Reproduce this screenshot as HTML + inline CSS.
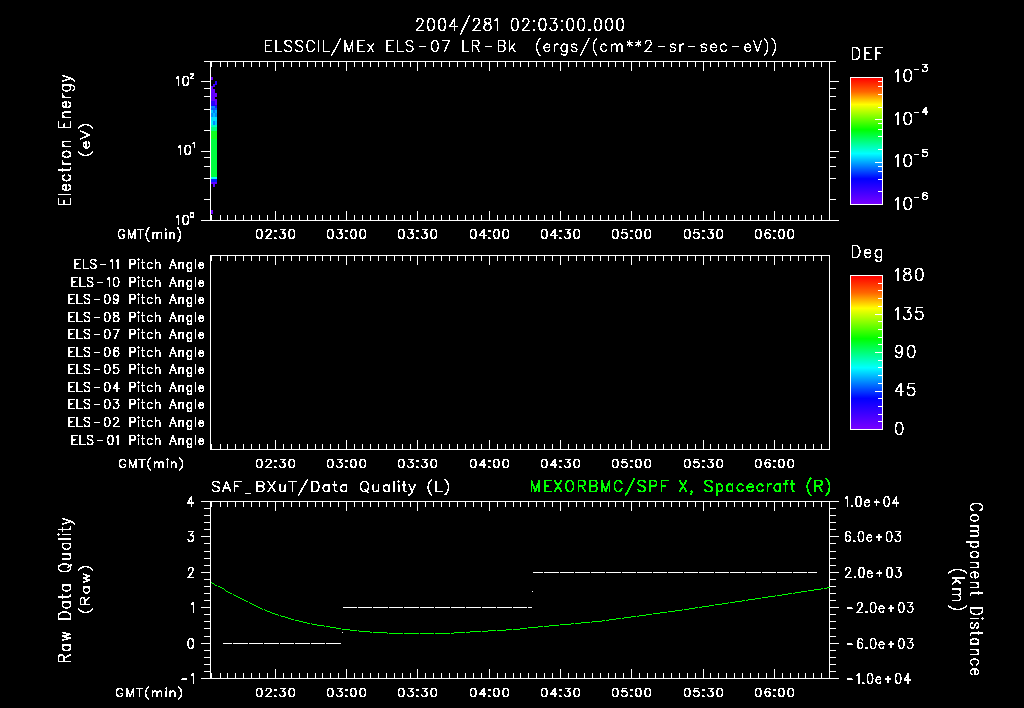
<!DOCTYPE html>
<html><head><meta charset="utf-8"><style>
html,body{margin:0;padding:0;background:#000;width:1024px;height:708px;overflow:hidden}
svg{display:block}
</style></head><body>
<svg width="1024" height="708" viewBox="0 0 1024 708">
<defs><linearGradient id="rb" x1="0" y1="0" x2="0" y2="1">
<stop offset="0" stop-color="#ff0000"/><stop offset="0.11" stop-color="#ff6600"/><stop offset="0.21" stop-color="#ffff00"/>
<stop offset="0.41" stop-color="#00ff00"/><stop offset="0.60" stop-color="#00ffff"/><stop offset="0.80" stop-color="#0000ff"/>
<stop offset="1" stop-color="#7800ff"/></linearGradient></defs>
<rect width="1024" height="708" fill="#000"/>
<g shape-rendering="crispEdges">
<rect x="204" y="61" width="632" height="1" fill="#fff"/>
<rect x="201" y="220" width="638" height="1" fill="#fff"/>
<rect x="210" y="61" width="1" height="160" fill="#fff"/>
<rect x="829" y="61" width="1" height="160" fill="#fff"/>
<rect x="211" y="62" width="1" height="5" fill="#fff"/>
<rect x="211" y="215" width="1" height="5" fill="#fff"/>
<rect x="220" y="62" width="1" height="5" fill="#fff"/>
<rect x="220" y="215" width="1" height="5" fill="#fff"/>
<rect x="227" y="62" width="1" height="5" fill="#fff"/>
<rect x="227" y="215" width="1" height="5" fill="#fff"/>
<rect x="235" y="62" width="1" height="5" fill="#fff"/>
<rect x="235" y="215" width="1" height="5" fill="#fff"/>
<rect x="243" y="62" width="1" height="5" fill="#fff"/>
<rect x="243" y="215" width="1" height="5" fill="#fff"/>
<rect x="251" y="62" width="1" height="5" fill="#fff"/>
<rect x="251" y="215" width="1" height="5" fill="#fff"/>
<rect x="259" y="62" width="1" height="5" fill="#fff"/>
<rect x="259" y="215" width="1" height="5" fill="#fff"/>
<rect x="267" y="62" width="1" height="5" fill="#fff"/>
<rect x="267" y="215" width="1" height="5" fill="#fff"/>
<rect x="275" y="62" width="1" height="9" fill="#fff"/>
<rect x="275" y="211" width="1" height="9" fill="#fff"/>
<rect x="283" y="62" width="1" height="5" fill="#fff"/>
<rect x="283" y="215" width="1" height="5" fill="#fff"/>
<rect x="291" y="62" width="1" height="5" fill="#fff"/>
<rect x="291" y="215" width="1" height="5" fill="#fff"/>
<rect x="299" y="62" width="1" height="5" fill="#fff"/>
<rect x="299" y="215" width="1" height="5" fill="#fff"/>
<rect x="307" y="62" width="1" height="5" fill="#fff"/>
<rect x="307" y="215" width="1" height="5" fill="#fff"/>
<rect x="315" y="62" width="1" height="5" fill="#fff"/>
<rect x="315" y="215" width="1" height="5" fill="#fff"/>
<rect x="322" y="62" width="1" height="5" fill="#fff"/>
<rect x="322" y="215" width="1" height="5" fill="#fff"/>
<rect x="330" y="62" width="1" height="5" fill="#fff"/>
<rect x="330" y="215" width="1" height="5" fill="#fff"/>
<rect x="338" y="62" width="1" height="5" fill="#fff"/>
<rect x="338" y="215" width="1" height="5" fill="#fff"/>
<rect x="346" y="62" width="1" height="9" fill="#fff"/>
<rect x="346" y="211" width="1" height="9" fill="#fff"/>
<rect x="354" y="62" width="1" height="5" fill="#fff"/>
<rect x="354" y="215" width="1" height="5" fill="#fff"/>
<rect x="362" y="62" width="1" height="5" fill="#fff"/>
<rect x="362" y="215" width="1" height="5" fill="#fff"/>
<rect x="370" y="62" width="1" height="5" fill="#fff"/>
<rect x="370" y="215" width="1" height="5" fill="#fff"/>
<rect x="378" y="62" width="1" height="5" fill="#fff"/>
<rect x="378" y="215" width="1" height="5" fill="#fff"/>
<rect x="386" y="62" width="1" height="5" fill="#fff"/>
<rect x="386" y="215" width="1" height="5" fill="#fff"/>
<rect x="394" y="62" width="1" height="5" fill="#fff"/>
<rect x="394" y="215" width="1" height="5" fill="#fff"/>
<rect x="402" y="62" width="1" height="5" fill="#fff"/>
<rect x="402" y="215" width="1" height="5" fill="#fff"/>
<rect x="410" y="62" width="1" height="5" fill="#fff"/>
<rect x="410" y="215" width="1" height="5" fill="#fff"/>
<rect x="417" y="62" width="1" height="9" fill="#fff"/>
<rect x="417" y="211" width="1" height="9" fill="#fff"/>
<rect x="425" y="62" width="1" height="5" fill="#fff"/>
<rect x="425" y="215" width="1" height="5" fill="#fff"/>
<rect x="433" y="62" width="1" height="5" fill="#fff"/>
<rect x="433" y="215" width="1" height="5" fill="#fff"/>
<rect x="441" y="62" width="1" height="5" fill="#fff"/>
<rect x="441" y="215" width="1" height="5" fill="#fff"/>
<rect x="449" y="62" width="1" height="5" fill="#fff"/>
<rect x="449" y="215" width="1" height="5" fill="#fff"/>
<rect x="457" y="62" width="1" height="5" fill="#fff"/>
<rect x="457" y="215" width="1" height="5" fill="#fff"/>
<rect x="465" y="62" width="1" height="5" fill="#fff"/>
<rect x="465" y="215" width="1" height="5" fill="#fff"/>
<rect x="473" y="62" width="1" height="5" fill="#fff"/>
<rect x="473" y="215" width="1" height="5" fill="#fff"/>
<rect x="481" y="62" width="1" height="5" fill="#fff"/>
<rect x="481" y="215" width="1" height="5" fill="#fff"/>
<rect x="489" y="62" width="1" height="9" fill="#fff"/>
<rect x="489" y="211" width="1" height="9" fill="#fff"/>
<rect x="497" y="62" width="1" height="5" fill="#fff"/>
<rect x="497" y="215" width="1" height="5" fill="#fff"/>
<rect x="505" y="62" width="1" height="5" fill="#fff"/>
<rect x="505" y="215" width="1" height="5" fill="#fff"/>
<rect x="513" y="62" width="1" height="5" fill="#fff"/>
<rect x="513" y="215" width="1" height="5" fill="#fff"/>
<rect x="520" y="62" width="1" height="5" fill="#fff"/>
<rect x="520" y="215" width="1" height="5" fill="#fff"/>
<rect x="528" y="62" width="1" height="5" fill="#fff"/>
<rect x="528" y="215" width="1" height="5" fill="#fff"/>
<rect x="536" y="62" width="1" height="5" fill="#fff"/>
<rect x="536" y="215" width="1" height="5" fill="#fff"/>
<rect x="544" y="62" width="1" height="5" fill="#fff"/>
<rect x="544" y="215" width="1" height="5" fill="#fff"/>
<rect x="552" y="62" width="1" height="5" fill="#fff"/>
<rect x="552" y="215" width="1" height="5" fill="#fff"/>
<rect x="560" y="62" width="1" height="9" fill="#fff"/>
<rect x="560" y="211" width="1" height="9" fill="#fff"/>
<rect x="568" y="62" width="1" height="5" fill="#fff"/>
<rect x="568" y="215" width="1" height="5" fill="#fff"/>
<rect x="576" y="62" width="1" height="5" fill="#fff"/>
<rect x="576" y="215" width="1" height="5" fill="#fff"/>
<rect x="584" y="62" width="1" height="5" fill="#fff"/>
<rect x="584" y="215" width="1" height="5" fill="#fff"/>
<rect x="592" y="62" width="1" height="5" fill="#fff"/>
<rect x="592" y="215" width="1" height="5" fill="#fff"/>
<rect x="600" y="62" width="1" height="5" fill="#fff"/>
<rect x="600" y="215" width="1" height="5" fill="#fff"/>
<rect x="608" y="62" width="1" height="5" fill="#fff"/>
<rect x="608" y="215" width="1" height="5" fill="#fff"/>
<rect x="615" y="62" width="1" height="5" fill="#fff"/>
<rect x="615" y="215" width="1" height="5" fill="#fff"/>
<rect x="623" y="62" width="1" height="5" fill="#fff"/>
<rect x="623" y="215" width="1" height="5" fill="#fff"/>
<rect x="631" y="62" width="1" height="9" fill="#fff"/>
<rect x="631" y="211" width="1" height="9" fill="#fff"/>
<rect x="639" y="62" width="1" height="5" fill="#fff"/>
<rect x="639" y="215" width="1" height="5" fill="#fff"/>
<rect x="647" y="62" width="1" height="5" fill="#fff"/>
<rect x="647" y="215" width="1" height="5" fill="#fff"/>
<rect x="655" y="62" width="1" height="5" fill="#fff"/>
<rect x="655" y="215" width="1" height="5" fill="#fff"/>
<rect x="663" y="62" width="1" height="5" fill="#fff"/>
<rect x="663" y="215" width="1" height="5" fill="#fff"/>
<rect x="671" y="62" width="1" height="5" fill="#fff"/>
<rect x="671" y="215" width="1" height="5" fill="#fff"/>
<rect x="679" y="62" width="1" height="5" fill="#fff"/>
<rect x="679" y="215" width="1" height="5" fill="#fff"/>
<rect x="687" y="62" width="1" height="5" fill="#fff"/>
<rect x="687" y="215" width="1" height="5" fill="#fff"/>
<rect x="695" y="62" width="1" height="5" fill="#fff"/>
<rect x="695" y="215" width="1" height="5" fill="#fff"/>
<rect x="703" y="62" width="1" height="9" fill="#fff"/>
<rect x="703" y="211" width="1" height="9" fill="#fff"/>
<rect x="710" y="62" width="1" height="5" fill="#fff"/>
<rect x="710" y="215" width="1" height="5" fill="#fff"/>
<rect x="718" y="62" width="1" height="5" fill="#fff"/>
<rect x="718" y="215" width="1" height="5" fill="#fff"/>
<rect x="726" y="62" width="1" height="5" fill="#fff"/>
<rect x="726" y="215" width="1" height="5" fill="#fff"/>
<rect x="734" y="62" width="1" height="5" fill="#fff"/>
<rect x="734" y="215" width="1" height="5" fill="#fff"/>
<rect x="742" y="62" width="1" height="5" fill="#fff"/>
<rect x="742" y="215" width="1" height="5" fill="#fff"/>
<rect x="750" y="62" width="1" height="5" fill="#fff"/>
<rect x="750" y="215" width="1" height="5" fill="#fff"/>
<rect x="758" y="62" width="1" height="5" fill="#fff"/>
<rect x="758" y="215" width="1" height="5" fill="#fff"/>
<rect x="766" y="62" width="1" height="5" fill="#fff"/>
<rect x="766" y="215" width="1" height="5" fill="#fff"/>
<rect x="774" y="62" width="1" height="9" fill="#fff"/>
<rect x="774" y="211" width="1" height="9" fill="#fff"/>
<rect x="782" y="62" width="1" height="5" fill="#fff"/>
<rect x="782" y="215" width="1" height="5" fill="#fff"/>
<rect x="790" y="62" width="1" height="5" fill="#fff"/>
<rect x="790" y="215" width="1" height="5" fill="#fff"/>
<rect x="798" y="62" width="1" height="5" fill="#fff"/>
<rect x="798" y="215" width="1" height="5" fill="#fff"/>
<rect x="805" y="62" width="1" height="5" fill="#fff"/>
<rect x="805" y="215" width="1" height="5" fill="#fff"/>
<rect x="813" y="62" width="1" height="5" fill="#fff"/>
<rect x="813" y="215" width="1" height="5" fill="#fff"/>
<rect x="821" y="62" width="1" height="5" fill="#fff"/>
<rect x="821" y="215" width="1" height="5" fill="#fff"/>
<rect x="829" y="62" width="1" height="5" fill="#fff"/>
<rect x="829" y="215" width="1" height="5" fill="#fff"/>
<rect x="201" y="220" width="9" height="1" fill="#fff"/>
<rect x="830" y="220" width="9" height="1" fill="#fff"/>
<rect x="204" y="199" width="6" height="1" fill="#fff"/>
<rect x="830" y="199" width="6" height="1" fill="#fff"/>
<rect x="204" y="178" width="6" height="1" fill="#fff"/>
<rect x="830" y="178" width="6" height="1" fill="#fff"/>
<rect x="204" y="166" width="6" height="1" fill="#fff"/>
<rect x="830" y="166" width="6" height="1" fill="#fff"/>
<rect x="204" y="157" width="6" height="1" fill="#fff"/>
<rect x="830" y="157" width="6" height="1" fill="#fff"/>
<rect x="201" y="151" width="9" height="1" fill="#fff"/>
<rect x="830" y="151" width="9" height="1" fill="#fff"/>
<rect x="204" y="130" width="6" height="1" fill="#fff"/>
<rect x="830" y="130" width="6" height="1" fill="#fff"/>
<rect x="204" y="109" width="6" height="1" fill="#fff"/>
<rect x="830" y="109" width="6" height="1" fill="#fff"/>
<rect x="204" y="96" width="6" height="1" fill="#fff"/>
<rect x="830" y="96" width="6" height="1" fill="#fff"/>
<rect x="204" y="88" width="6" height="1" fill="#fff"/>
<rect x="830" y="88" width="6" height="1" fill="#fff"/>
<rect x="201" y="81" width="9" height="1" fill="#fff"/>
<rect x="830" y="81" width="9" height="1" fill="#fff"/>
<rect x="204" y="61" width="6" height="1" fill="#fff"/>
<rect x="830" y="61" width="6" height="1" fill="#fff"/>
<rect x="211" y="77" width="2" height="3" fill="#7000ff"/>
<rect x="215" y="81" width="2" height="4" fill="#2400ff"/>
<rect x="213" y="84" width="2" height="3" fill="#4800ff"/>
<rect x="211" y="86" width="2" height="3" fill="#6400ff"/>
<rect x="211" y="89" width="4" height="4" fill="#6400ff"/>
<rect x="211" y="93" width="4" height="4" fill="#6000ff"/>
<rect x="215" y="93" width="2" height="4" fill="#7000ff"/>
<rect x="211" y="97" width="4" height="2" fill="#6000ff"/>
<rect x="211" y="99" width="6" height="2" fill="#6400ff"/>
<rect x="211" y="101" width="4" height="4" fill="#2800ff"/>
<rect x="215" y="101" width="2" height="4" fill="#6800ff"/>
<rect x="211" y="105" width="4" height="1" fill="#1800ff"/>
<rect x="215" y="105" width="2" height="1" fill="#2000ff"/>
<rect x="211" y="106" width="4" height="2" fill="#0080ff"/>
<rect x="215" y="106" width="2" height="2" fill="#1020ff"/>
<rect x="211" y="108" width="6" height="2" fill="#0060ff"/>
<rect x="211" y="110" width="2" height="3" fill="#00c8ff"/>
<rect x="213" y="110" width="2" height="3" fill="#0080ff"/>
<rect x="215" y="110" width="2" height="3" fill="#00b0ff"/>
<rect x="211" y="113" width="2" height="4" fill="#0090ff"/>
<rect x="213" y="113" width="2" height="4" fill="#00b8ff"/>
<rect x="215" y="113" width="2" height="4" fill="#0090ff"/>
<rect x="211" y="117" width="6" height="4" fill="#00e0ff"/>
<rect x="211" y="121" width="2" height="4" fill="#00f0ff"/>
<rect x="213" y="121" width="2" height="4" fill="#0090ff"/>
<rect x="215" y="121" width="2" height="4" fill="#00d0ff"/>
<rect x="211" y="125" width="6" height="2" fill="#00ffc0"/>
<rect x="211" y="127" width="6" height="4" fill="#00ff80"/>
<rect x="211" y="131" width="6" height="8" fill="#10ff20"/>
<rect x="211" y="139" width="6" height="38" fill="#00ff40"/>
<rect x="211" y="177" width="6" height="2" fill="#00ffff"/>
<rect x="211" y="179" width="6" height="3" fill="#0020ff"/>
<rect x="211" y="182" width="6" height="2" fill="#6000ff"/>
<rect x="213" y="184" width="2" height="3" fill="#6000ff"/>
<rect x="211" y="210" width="2" height="4" fill="#7000ff"/>
<rect x="851" y="78" width="31" height="126" fill="url(#rb)"/>
<rect x="850" y="77" width="33" height="1" fill="#fff"/>
<rect x="850" y="204" width="33" height="1" fill="#fff"/>
<rect x="850" y="77" width="1" height="128" fill="#fff"/>
<rect x="882" y="77" width="1" height="128" fill="#fff"/>
<rect x="875" y="119" width="7" height="1" fill="#fff"/>
<rect x="878" y="107" width="4" height="1" fill="#fff"/>
<rect x="878" y="94" width="4" height="1" fill="#fff"/>
<rect x="878" y="86" width="4" height="1" fill="#fff"/>
<rect x="878" y="81" width="4" height="1" fill="#fff"/>
<rect x="875" y="162" width="7" height="1" fill="#fff"/>
<rect x="878" y="149" width="4" height="1" fill="#fff"/>
<rect x="878" y="136" width="4" height="1" fill="#fff"/>
<rect x="878" y="129" width="4" height="1" fill="#fff"/>
<rect x="878" y="123" width="4" height="1" fill="#fff"/>
<rect x="878" y="191" width="4" height="1" fill="#fff"/>
<rect x="878" y="179" width="4" height="1" fill="#fff"/>
<rect x="878" y="171" width="4" height="1" fill="#fff"/>
<rect x="878" y="166" width="4" height="1" fill="#fff"/>
<rect x="914" y="69" width="5" height="1" fill="#fff"/>
<rect x="914" y="112" width="5" height="1" fill="#fff"/>
<rect x="914" y="154" width="5" height="1" fill="#fff"/>
<rect x="914" y="197" width="5" height="1" fill="#fff"/>
<rect x="210" y="255" width="620" height="1" fill="#fff"/>
<rect x="210" y="449" width="620" height="1" fill="#fff"/>
<rect x="210" y="255" width="1" height="195" fill="#fff"/>
<rect x="829" y="255" width="1" height="195" fill="#fff"/>
<rect x="211" y="256" width="1" height="5" fill="#fff"/>
<rect x="211" y="444" width="1" height="5" fill="#fff"/>
<rect x="220" y="256" width="1" height="5" fill="#fff"/>
<rect x="220" y="444" width="1" height="5" fill="#fff"/>
<rect x="227" y="256" width="1" height="5" fill="#fff"/>
<rect x="227" y="444" width="1" height="5" fill="#fff"/>
<rect x="235" y="256" width="1" height="5" fill="#fff"/>
<rect x="235" y="444" width="1" height="5" fill="#fff"/>
<rect x="243" y="256" width="1" height="5" fill="#fff"/>
<rect x="243" y="444" width="1" height="5" fill="#fff"/>
<rect x="251" y="256" width="1" height="5" fill="#fff"/>
<rect x="251" y="444" width="1" height="5" fill="#fff"/>
<rect x="259" y="256" width="1" height="5" fill="#fff"/>
<rect x="259" y="444" width="1" height="5" fill="#fff"/>
<rect x="267" y="256" width="1" height="5" fill="#fff"/>
<rect x="267" y="444" width="1" height="5" fill="#fff"/>
<rect x="275" y="256" width="1" height="9" fill="#fff"/>
<rect x="275" y="440" width="1" height="9" fill="#fff"/>
<rect x="283" y="256" width="1" height="5" fill="#fff"/>
<rect x="283" y="444" width="1" height="5" fill="#fff"/>
<rect x="291" y="256" width="1" height="5" fill="#fff"/>
<rect x="291" y="444" width="1" height="5" fill="#fff"/>
<rect x="299" y="256" width="1" height="5" fill="#fff"/>
<rect x="299" y="444" width="1" height="5" fill="#fff"/>
<rect x="307" y="256" width="1" height="5" fill="#fff"/>
<rect x="307" y="444" width="1" height="5" fill="#fff"/>
<rect x="315" y="256" width="1" height="5" fill="#fff"/>
<rect x="315" y="444" width="1" height="5" fill="#fff"/>
<rect x="322" y="256" width="1" height="5" fill="#fff"/>
<rect x="322" y="444" width="1" height="5" fill="#fff"/>
<rect x="330" y="256" width="1" height="5" fill="#fff"/>
<rect x="330" y="444" width="1" height="5" fill="#fff"/>
<rect x="338" y="256" width="1" height="5" fill="#fff"/>
<rect x="338" y="444" width="1" height="5" fill="#fff"/>
<rect x="346" y="256" width="1" height="9" fill="#fff"/>
<rect x="346" y="440" width="1" height="9" fill="#fff"/>
<rect x="354" y="256" width="1" height="5" fill="#fff"/>
<rect x="354" y="444" width="1" height="5" fill="#fff"/>
<rect x="362" y="256" width="1" height="5" fill="#fff"/>
<rect x="362" y="444" width="1" height="5" fill="#fff"/>
<rect x="370" y="256" width="1" height="5" fill="#fff"/>
<rect x="370" y="444" width="1" height="5" fill="#fff"/>
<rect x="378" y="256" width="1" height="5" fill="#fff"/>
<rect x="378" y="444" width="1" height="5" fill="#fff"/>
<rect x="386" y="256" width="1" height="5" fill="#fff"/>
<rect x="386" y="444" width="1" height="5" fill="#fff"/>
<rect x="394" y="256" width="1" height="5" fill="#fff"/>
<rect x="394" y="444" width="1" height="5" fill="#fff"/>
<rect x="402" y="256" width="1" height="5" fill="#fff"/>
<rect x="402" y="444" width="1" height="5" fill="#fff"/>
<rect x="410" y="256" width="1" height="5" fill="#fff"/>
<rect x="410" y="444" width="1" height="5" fill="#fff"/>
<rect x="417" y="256" width="1" height="9" fill="#fff"/>
<rect x="417" y="440" width="1" height="9" fill="#fff"/>
<rect x="425" y="256" width="1" height="5" fill="#fff"/>
<rect x="425" y="444" width="1" height="5" fill="#fff"/>
<rect x="433" y="256" width="1" height="5" fill="#fff"/>
<rect x="433" y="444" width="1" height="5" fill="#fff"/>
<rect x="441" y="256" width="1" height="5" fill="#fff"/>
<rect x="441" y="444" width="1" height="5" fill="#fff"/>
<rect x="449" y="256" width="1" height="5" fill="#fff"/>
<rect x="449" y="444" width="1" height="5" fill="#fff"/>
<rect x="457" y="256" width="1" height="5" fill="#fff"/>
<rect x="457" y="444" width="1" height="5" fill="#fff"/>
<rect x="465" y="256" width="1" height="5" fill="#fff"/>
<rect x="465" y="444" width="1" height="5" fill="#fff"/>
<rect x="473" y="256" width="1" height="5" fill="#fff"/>
<rect x="473" y="444" width="1" height="5" fill="#fff"/>
<rect x="481" y="256" width="1" height="5" fill="#fff"/>
<rect x="481" y="444" width="1" height="5" fill="#fff"/>
<rect x="489" y="256" width="1" height="9" fill="#fff"/>
<rect x="489" y="440" width="1" height="9" fill="#fff"/>
<rect x="497" y="256" width="1" height="5" fill="#fff"/>
<rect x="497" y="444" width="1" height="5" fill="#fff"/>
<rect x="505" y="256" width="1" height="5" fill="#fff"/>
<rect x="505" y="444" width="1" height="5" fill="#fff"/>
<rect x="513" y="256" width="1" height="5" fill="#fff"/>
<rect x="513" y="444" width="1" height="5" fill="#fff"/>
<rect x="520" y="256" width="1" height="5" fill="#fff"/>
<rect x="520" y="444" width="1" height="5" fill="#fff"/>
<rect x="528" y="256" width="1" height="5" fill="#fff"/>
<rect x="528" y="444" width="1" height="5" fill="#fff"/>
<rect x="536" y="256" width="1" height="5" fill="#fff"/>
<rect x="536" y="444" width="1" height="5" fill="#fff"/>
<rect x="544" y="256" width="1" height="5" fill="#fff"/>
<rect x="544" y="444" width="1" height="5" fill="#fff"/>
<rect x="552" y="256" width="1" height="5" fill="#fff"/>
<rect x="552" y="444" width="1" height="5" fill="#fff"/>
<rect x="560" y="256" width="1" height="9" fill="#fff"/>
<rect x="560" y="440" width="1" height="9" fill="#fff"/>
<rect x="568" y="256" width="1" height="5" fill="#fff"/>
<rect x="568" y="444" width="1" height="5" fill="#fff"/>
<rect x="576" y="256" width="1" height="5" fill="#fff"/>
<rect x="576" y="444" width="1" height="5" fill="#fff"/>
<rect x="584" y="256" width="1" height="5" fill="#fff"/>
<rect x="584" y="444" width="1" height="5" fill="#fff"/>
<rect x="592" y="256" width="1" height="5" fill="#fff"/>
<rect x="592" y="444" width="1" height="5" fill="#fff"/>
<rect x="600" y="256" width="1" height="5" fill="#fff"/>
<rect x="600" y="444" width="1" height="5" fill="#fff"/>
<rect x="608" y="256" width="1" height="5" fill="#fff"/>
<rect x="608" y="444" width="1" height="5" fill="#fff"/>
<rect x="615" y="256" width="1" height="5" fill="#fff"/>
<rect x="615" y="444" width="1" height="5" fill="#fff"/>
<rect x="623" y="256" width="1" height="5" fill="#fff"/>
<rect x="623" y="444" width="1" height="5" fill="#fff"/>
<rect x="631" y="256" width="1" height="9" fill="#fff"/>
<rect x="631" y="440" width="1" height="9" fill="#fff"/>
<rect x="639" y="256" width="1" height="5" fill="#fff"/>
<rect x="639" y="444" width="1" height="5" fill="#fff"/>
<rect x="647" y="256" width="1" height="5" fill="#fff"/>
<rect x="647" y="444" width="1" height="5" fill="#fff"/>
<rect x="655" y="256" width="1" height="5" fill="#fff"/>
<rect x="655" y="444" width="1" height="5" fill="#fff"/>
<rect x="663" y="256" width="1" height="5" fill="#fff"/>
<rect x="663" y="444" width="1" height="5" fill="#fff"/>
<rect x="671" y="256" width="1" height="5" fill="#fff"/>
<rect x="671" y="444" width="1" height="5" fill="#fff"/>
<rect x="679" y="256" width="1" height="5" fill="#fff"/>
<rect x="679" y="444" width="1" height="5" fill="#fff"/>
<rect x="687" y="256" width="1" height="5" fill="#fff"/>
<rect x="687" y="444" width="1" height="5" fill="#fff"/>
<rect x="695" y="256" width="1" height="5" fill="#fff"/>
<rect x="695" y="444" width="1" height="5" fill="#fff"/>
<rect x="703" y="256" width="1" height="9" fill="#fff"/>
<rect x="703" y="440" width="1" height="9" fill="#fff"/>
<rect x="710" y="256" width="1" height="5" fill="#fff"/>
<rect x="710" y="444" width="1" height="5" fill="#fff"/>
<rect x="718" y="256" width="1" height="5" fill="#fff"/>
<rect x="718" y="444" width="1" height="5" fill="#fff"/>
<rect x="726" y="256" width="1" height="5" fill="#fff"/>
<rect x="726" y="444" width="1" height="5" fill="#fff"/>
<rect x="734" y="256" width="1" height="5" fill="#fff"/>
<rect x="734" y="444" width="1" height="5" fill="#fff"/>
<rect x="742" y="256" width="1" height="5" fill="#fff"/>
<rect x="742" y="444" width="1" height="5" fill="#fff"/>
<rect x="750" y="256" width="1" height="5" fill="#fff"/>
<rect x="750" y="444" width="1" height="5" fill="#fff"/>
<rect x="758" y="256" width="1" height="5" fill="#fff"/>
<rect x="758" y="444" width="1" height="5" fill="#fff"/>
<rect x="766" y="256" width="1" height="5" fill="#fff"/>
<rect x="766" y="444" width="1" height="5" fill="#fff"/>
<rect x="774" y="256" width="1" height="9" fill="#fff"/>
<rect x="774" y="440" width="1" height="9" fill="#fff"/>
<rect x="782" y="256" width="1" height="5" fill="#fff"/>
<rect x="782" y="444" width="1" height="5" fill="#fff"/>
<rect x="790" y="256" width="1" height="5" fill="#fff"/>
<rect x="790" y="444" width="1" height="5" fill="#fff"/>
<rect x="798" y="256" width="1" height="5" fill="#fff"/>
<rect x="798" y="444" width="1" height="5" fill="#fff"/>
<rect x="805" y="256" width="1" height="5" fill="#fff"/>
<rect x="805" y="444" width="1" height="5" fill="#fff"/>
<rect x="813" y="256" width="1" height="5" fill="#fff"/>
<rect x="813" y="444" width="1" height="5" fill="#fff"/>
<rect x="821" y="256" width="1" height="5" fill="#fff"/>
<rect x="821" y="444" width="1" height="5" fill="#fff"/>
<rect x="829" y="256" width="1" height="5" fill="#fff"/>
<rect x="829" y="444" width="1" height="5" fill="#fff"/>
<rect x="851" y="276" width="31" height="153" fill="url(#rb)"/>
<rect x="850" y="275" width="33" height="1" fill="#fff"/>
<rect x="850" y="429" width="33" height="1" fill="#fff"/>
<rect x="850" y="275" width="1" height="155" fill="#fff"/>
<rect x="882" y="275" width="1" height="155" fill="#fff"/>
<rect x="878" y="283" width="4" height="1" fill="#fff"/>
<rect x="878" y="290" width="4" height="1" fill="#fff"/>
<rect x="878" y="298" width="4" height="1" fill="#fff"/>
<rect x="878" y="306" width="4" height="1" fill="#fff"/>
<rect x="875" y="314" width="7" height="1" fill="#fff"/>
<rect x="878" y="321" width="4" height="1" fill="#fff"/>
<rect x="878" y="329" width="4" height="1" fill="#fff"/>
<rect x="878" y="337" width="4" height="1" fill="#fff"/>
<rect x="878" y="344" width="4" height="1" fill="#fff"/>
<rect x="875" y="352" width="7" height="1" fill="#fff"/>
<rect x="878" y="360" width="4" height="1" fill="#fff"/>
<rect x="878" y="367" width="4" height="1" fill="#fff"/>
<rect x="878" y="375" width="4" height="1" fill="#fff"/>
<rect x="878" y="383" width="4" height="1" fill="#fff"/>
<rect x="875" y="391" width="7" height="1" fill="#fff"/>
<rect x="878" y="398" width="4" height="1" fill="#fff"/>
<rect x="878" y="406" width="4" height="1" fill="#fff"/>
<rect x="878" y="414" width="4" height="1" fill="#fff"/>
<rect x="878" y="421" width="4" height="1" fill="#fff"/>
<rect x="201" y="501" width="638" height="1" fill="#fff"/>
<rect x="201" y="678" width="638" height="1" fill="#fff"/>
<rect x="210" y="501" width="1" height="178" fill="#fff"/>
<rect x="829" y="501" width="1" height="178" fill="#fff"/>
<rect x="211" y="502" width="1" height="5" fill="#fff"/>
<rect x="211" y="673" width="1" height="5" fill="#fff"/>
<rect x="220" y="502" width="1" height="5" fill="#fff"/>
<rect x="220" y="673" width="1" height="5" fill="#fff"/>
<rect x="227" y="502" width="1" height="5" fill="#fff"/>
<rect x="227" y="673" width="1" height="5" fill="#fff"/>
<rect x="235" y="502" width="1" height="5" fill="#fff"/>
<rect x="235" y="673" width="1" height="5" fill="#fff"/>
<rect x="243" y="502" width="1" height="5" fill="#fff"/>
<rect x="243" y="673" width="1" height="5" fill="#fff"/>
<rect x="251" y="502" width="1" height="5" fill="#fff"/>
<rect x="251" y="673" width="1" height="5" fill="#fff"/>
<rect x="259" y="502" width="1" height="5" fill="#fff"/>
<rect x="259" y="673" width="1" height="5" fill="#fff"/>
<rect x="267" y="502" width="1" height="5" fill="#fff"/>
<rect x="267" y="673" width="1" height="5" fill="#fff"/>
<rect x="275" y="502" width="1" height="9" fill="#fff"/>
<rect x="275" y="669" width="1" height="9" fill="#fff"/>
<rect x="283" y="502" width="1" height="5" fill="#fff"/>
<rect x="283" y="673" width="1" height="5" fill="#fff"/>
<rect x="291" y="502" width="1" height="5" fill="#fff"/>
<rect x="291" y="673" width="1" height="5" fill="#fff"/>
<rect x="299" y="502" width="1" height="5" fill="#fff"/>
<rect x="299" y="673" width="1" height="5" fill="#fff"/>
<rect x="307" y="502" width="1" height="5" fill="#fff"/>
<rect x="307" y="673" width="1" height="5" fill="#fff"/>
<rect x="315" y="502" width="1" height="5" fill="#fff"/>
<rect x="315" y="673" width="1" height="5" fill="#fff"/>
<rect x="322" y="502" width="1" height="5" fill="#fff"/>
<rect x="322" y="673" width="1" height="5" fill="#fff"/>
<rect x="330" y="502" width="1" height="5" fill="#fff"/>
<rect x="330" y="673" width="1" height="5" fill="#fff"/>
<rect x="338" y="502" width="1" height="5" fill="#fff"/>
<rect x="338" y="673" width="1" height="5" fill="#fff"/>
<rect x="346" y="502" width="1" height="9" fill="#fff"/>
<rect x="346" y="669" width="1" height="9" fill="#fff"/>
<rect x="354" y="502" width="1" height="5" fill="#fff"/>
<rect x="354" y="673" width="1" height="5" fill="#fff"/>
<rect x="362" y="502" width="1" height="5" fill="#fff"/>
<rect x="362" y="673" width="1" height="5" fill="#fff"/>
<rect x="370" y="502" width="1" height="5" fill="#fff"/>
<rect x="370" y="673" width="1" height="5" fill="#fff"/>
<rect x="378" y="502" width="1" height="5" fill="#fff"/>
<rect x="378" y="673" width="1" height="5" fill="#fff"/>
<rect x="386" y="502" width="1" height="5" fill="#fff"/>
<rect x="386" y="673" width="1" height="5" fill="#fff"/>
<rect x="394" y="502" width="1" height="5" fill="#fff"/>
<rect x="394" y="673" width="1" height="5" fill="#fff"/>
<rect x="402" y="502" width="1" height="5" fill="#fff"/>
<rect x="402" y="673" width="1" height="5" fill="#fff"/>
<rect x="410" y="502" width="1" height="5" fill="#fff"/>
<rect x="410" y="673" width="1" height="5" fill="#fff"/>
<rect x="417" y="502" width="1" height="9" fill="#fff"/>
<rect x="417" y="669" width="1" height="9" fill="#fff"/>
<rect x="425" y="502" width="1" height="5" fill="#fff"/>
<rect x="425" y="673" width="1" height="5" fill="#fff"/>
<rect x="433" y="502" width="1" height="5" fill="#fff"/>
<rect x="433" y="673" width="1" height="5" fill="#fff"/>
<rect x="441" y="502" width="1" height="5" fill="#fff"/>
<rect x="441" y="673" width="1" height="5" fill="#fff"/>
<rect x="449" y="502" width="1" height="5" fill="#fff"/>
<rect x="449" y="673" width="1" height="5" fill="#fff"/>
<rect x="457" y="502" width="1" height="5" fill="#fff"/>
<rect x="457" y="673" width="1" height="5" fill="#fff"/>
<rect x="465" y="502" width="1" height="5" fill="#fff"/>
<rect x="465" y="673" width="1" height="5" fill="#fff"/>
<rect x="473" y="502" width="1" height="5" fill="#fff"/>
<rect x="473" y="673" width="1" height="5" fill="#fff"/>
<rect x="481" y="502" width="1" height="5" fill="#fff"/>
<rect x="481" y="673" width="1" height="5" fill="#fff"/>
<rect x="489" y="502" width="1" height="9" fill="#fff"/>
<rect x="489" y="669" width="1" height="9" fill="#fff"/>
<rect x="497" y="502" width="1" height="5" fill="#fff"/>
<rect x="497" y="673" width="1" height="5" fill="#fff"/>
<rect x="505" y="502" width="1" height="5" fill="#fff"/>
<rect x="505" y="673" width="1" height="5" fill="#fff"/>
<rect x="513" y="502" width="1" height="5" fill="#fff"/>
<rect x="513" y="673" width="1" height="5" fill="#fff"/>
<rect x="520" y="502" width="1" height="5" fill="#fff"/>
<rect x="520" y="673" width="1" height="5" fill="#fff"/>
<rect x="528" y="502" width="1" height="5" fill="#fff"/>
<rect x="528" y="673" width="1" height="5" fill="#fff"/>
<rect x="536" y="502" width="1" height="5" fill="#fff"/>
<rect x="536" y="673" width="1" height="5" fill="#fff"/>
<rect x="544" y="502" width="1" height="5" fill="#fff"/>
<rect x="544" y="673" width="1" height="5" fill="#fff"/>
<rect x="552" y="502" width="1" height="5" fill="#fff"/>
<rect x="552" y="673" width="1" height="5" fill="#fff"/>
<rect x="560" y="502" width="1" height="9" fill="#fff"/>
<rect x="560" y="669" width="1" height="9" fill="#fff"/>
<rect x="568" y="502" width="1" height="5" fill="#fff"/>
<rect x="568" y="673" width="1" height="5" fill="#fff"/>
<rect x="576" y="502" width="1" height="5" fill="#fff"/>
<rect x="576" y="673" width="1" height="5" fill="#fff"/>
<rect x="584" y="502" width="1" height="5" fill="#fff"/>
<rect x="584" y="673" width="1" height="5" fill="#fff"/>
<rect x="592" y="502" width="1" height="5" fill="#fff"/>
<rect x="592" y="673" width="1" height="5" fill="#fff"/>
<rect x="600" y="502" width="1" height="5" fill="#fff"/>
<rect x="600" y="673" width="1" height="5" fill="#fff"/>
<rect x="608" y="502" width="1" height="5" fill="#fff"/>
<rect x="608" y="673" width="1" height="5" fill="#fff"/>
<rect x="615" y="502" width="1" height="5" fill="#fff"/>
<rect x="615" y="673" width="1" height="5" fill="#fff"/>
<rect x="623" y="502" width="1" height="5" fill="#fff"/>
<rect x="623" y="673" width="1" height="5" fill="#fff"/>
<rect x="631" y="502" width="1" height="9" fill="#fff"/>
<rect x="631" y="669" width="1" height="9" fill="#fff"/>
<rect x="639" y="502" width="1" height="5" fill="#fff"/>
<rect x="639" y="673" width="1" height="5" fill="#fff"/>
<rect x="647" y="502" width="1" height="5" fill="#fff"/>
<rect x="647" y="673" width="1" height="5" fill="#fff"/>
<rect x="655" y="502" width="1" height="5" fill="#fff"/>
<rect x="655" y="673" width="1" height="5" fill="#fff"/>
<rect x="663" y="502" width="1" height="5" fill="#fff"/>
<rect x="663" y="673" width="1" height="5" fill="#fff"/>
<rect x="671" y="502" width="1" height="5" fill="#fff"/>
<rect x="671" y="673" width="1" height="5" fill="#fff"/>
<rect x="679" y="502" width="1" height="5" fill="#fff"/>
<rect x="679" y="673" width="1" height="5" fill="#fff"/>
<rect x="687" y="502" width="1" height="5" fill="#fff"/>
<rect x="687" y="673" width="1" height="5" fill="#fff"/>
<rect x="695" y="502" width="1" height="5" fill="#fff"/>
<rect x="695" y="673" width="1" height="5" fill="#fff"/>
<rect x="703" y="502" width="1" height="9" fill="#fff"/>
<rect x="703" y="669" width="1" height="9" fill="#fff"/>
<rect x="710" y="502" width="1" height="5" fill="#fff"/>
<rect x="710" y="673" width="1" height="5" fill="#fff"/>
<rect x="718" y="502" width="1" height="5" fill="#fff"/>
<rect x="718" y="673" width="1" height="5" fill="#fff"/>
<rect x="726" y="502" width="1" height="5" fill="#fff"/>
<rect x="726" y="673" width="1" height="5" fill="#fff"/>
<rect x="734" y="502" width="1" height="5" fill="#fff"/>
<rect x="734" y="673" width="1" height="5" fill="#fff"/>
<rect x="742" y="502" width="1" height="5" fill="#fff"/>
<rect x="742" y="673" width="1" height="5" fill="#fff"/>
<rect x="750" y="502" width="1" height="5" fill="#fff"/>
<rect x="750" y="673" width="1" height="5" fill="#fff"/>
<rect x="758" y="502" width="1" height="5" fill="#fff"/>
<rect x="758" y="673" width="1" height="5" fill="#fff"/>
<rect x="766" y="502" width="1" height="5" fill="#fff"/>
<rect x="766" y="673" width="1" height="5" fill="#fff"/>
<rect x="774" y="502" width="1" height="9" fill="#fff"/>
<rect x="774" y="669" width="1" height="9" fill="#fff"/>
<rect x="782" y="502" width="1" height="5" fill="#fff"/>
<rect x="782" y="673" width="1" height="5" fill="#fff"/>
<rect x="790" y="502" width="1" height="5" fill="#fff"/>
<rect x="790" y="673" width="1" height="5" fill="#fff"/>
<rect x="798" y="502" width="1" height="5" fill="#fff"/>
<rect x="798" y="673" width="1" height="5" fill="#fff"/>
<rect x="805" y="502" width="1" height="5" fill="#fff"/>
<rect x="805" y="673" width="1" height="5" fill="#fff"/>
<rect x="813" y="502" width="1" height="5" fill="#fff"/>
<rect x="813" y="673" width="1" height="5" fill="#fff"/>
<rect x="821" y="502" width="1" height="5" fill="#fff"/>
<rect x="821" y="673" width="1" height="5" fill="#fff"/>
<rect x="829" y="502" width="1" height="5" fill="#fff"/>
<rect x="829" y="673" width="1" height="5" fill="#fff"/>
<rect x="201" y="501" width="9" height="1" fill="#fff"/>
<rect x="830" y="501" width="9" height="1" fill="#fff"/>
<rect x="204" y="508" width="6" height="1" fill="#fff"/>
<rect x="830" y="508" width="6" height="1" fill="#fff"/>
<rect x="204" y="515" width="6" height="1" fill="#fff"/>
<rect x="830" y="515" width="6" height="1" fill="#fff"/>
<rect x="204" y="522" width="6" height="1" fill="#fff"/>
<rect x="830" y="522" width="6" height="1" fill="#fff"/>
<rect x="204" y="529" width="6" height="1" fill="#fff"/>
<rect x="830" y="529" width="6" height="1" fill="#fff"/>
<rect x="201" y="536" width="9" height="1" fill="#fff"/>
<rect x="830" y="536" width="9" height="1" fill="#fff"/>
<rect x="204" y="543" width="6" height="1" fill="#fff"/>
<rect x="830" y="543" width="6" height="1" fill="#fff"/>
<rect x="204" y="551" width="6" height="1" fill="#fff"/>
<rect x="830" y="551" width="6" height="1" fill="#fff"/>
<rect x="204" y="558" width="6" height="1" fill="#fff"/>
<rect x="830" y="558" width="6" height="1" fill="#fff"/>
<rect x="204" y="565" width="6" height="1" fill="#fff"/>
<rect x="830" y="565" width="6" height="1" fill="#fff"/>
<rect x="201" y="572" width="9" height="1" fill="#fff"/>
<rect x="830" y="572" width="9" height="1" fill="#fff"/>
<rect x="204" y="579" width="6" height="1" fill="#fff"/>
<rect x="830" y="579" width="6" height="1" fill="#fff"/>
<rect x="204" y="586" width="6" height="1" fill="#fff"/>
<rect x="830" y="586" width="6" height="1" fill="#fff"/>
<rect x="204" y="593" width="6" height="1" fill="#fff"/>
<rect x="830" y="593" width="6" height="1" fill="#fff"/>
<rect x="204" y="600" width="6" height="1" fill="#fff"/>
<rect x="830" y="600" width="6" height="1" fill="#fff"/>
<rect x="201" y="607" width="9" height="1" fill="#fff"/>
<rect x="830" y="607" width="9" height="1" fill="#fff"/>
<rect x="204" y="614" width="6" height="1" fill="#fff"/>
<rect x="830" y="614" width="6" height="1" fill="#fff"/>
<rect x="204" y="621" width="6" height="1" fill="#fff"/>
<rect x="830" y="621" width="6" height="1" fill="#fff"/>
<rect x="204" y="628" width="6" height="1" fill="#fff"/>
<rect x="830" y="628" width="6" height="1" fill="#fff"/>
<rect x="204" y="636" width="6" height="1" fill="#fff"/>
<rect x="830" y="636" width="6" height="1" fill="#fff"/>
<rect x="201" y="643" width="9" height="1" fill="#fff"/>
<rect x="830" y="643" width="9" height="1" fill="#fff"/>
<rect x="204" y="650" width="6" height="1" fill="#fff"/>
<rect x="830" y="650" width="6" height="1" fill="#fff"/>
<rect x="204" y="657" width="6" height="1" fill="#fff"/>
<rect x="830" y="657" width="6" height="1" fill="#fff"/>
<rect x="204" y="664" width="6" height="1" fill="#fff"/>
<rect x="830" y="664" width="6" height="1" fill="#fff"/>
<rect x="204" y="671" width="6" height="1" fill="#fff"/>
<rect x="830" y="671" width="6" height="1" fill="#fff"/>
<rect x="201" y="678" width="9" height="1" fill="#fff"/>
<rect x="830" y="678" width="9" height="1" fill="#fff"/>
<rect x="223" y="643" width="9" height="1" fill="#fff"/>
<rect x="233" y="643" width="15" height="1" fill="#fff"/>
<rect x="249" y="643" width="14" height="1" fill="#fff"/>
<rect x="264" y="643" width="15" height="1" fill="#fff"/>
<rect x="280" y="643" width="14" height="1" fill="#fff"/>
<rect x="295" y="643" width="15" height="1" fill="#fff"/>
<rect x="311" y="643" width="14" height="1" fill="#fff"/>
<rect x="326" y="643" width="15" height="1" fill="#fff"/>
<rect x="343" y="607" width="14" height="1" fill="#fff"/>
<rect x="358" y="607" width="14" height="1" fill="#fff"/>
<rect x="373" y="607" width="15" height="1" fill="#fff"/>
<rect x="389" y="607" width="14" height="1" fill="#fff"/>
<rect x="404" y="607" width="15" height="1" fill="#fff"/>
<rect x="420" y="607" width="14" height="1" fill="#fff"/>
<rect x="435" y="607" width="15" height="1" fill="#fff"/>
<rect x="451" y="607" width="14" height="1" fill="#fff"/>
<rect x="466" y="607" width="15" height="1" fill="#fff"/>
<rect x="482" y="607" width="14" height="1" fill="#fff"/>
<rect x="497" y="607" width="15" height="1" fill="#fff"/>
<rect x="513" y="607" width="14" height="1" fill="#fff"/>
<rect x="528" y="607" width="4" height="1" fill="#fff"/>
<rect x="533" y="572" width="10" height="1" fill="#fff"/>
<rect x="544" y="572" width="15" height="1" fill="#fff"/>
<rect x="560" y="572" width="14" height="1" fill="#fff"/>
<rect x="575" y="572" width="15" height="1" fill="#fff"/>
<rect x="591" y="572" width="14" height="1" fill="#fff"/>
<rect x="606" y="572" width="15" height="1" fill="#fff"/>
<rect x="622" y="572" width="14" height="1" fill="#fff"/>
<rect x="637" y="572" width="15" height="1" fill="#fff"/>
<rect x="653" y="572" width="14" height="1" fill="#fff"/>
<rect x="668" y="572" width="15" height="1" fill="#fff"/>
<rect x="684" y="572" width="14" height="1" fill="#fff"/>
<rect x="699" y="572" width="15" height="1" fill="#fff"/>
<rect x="715" y="572" width="14" height="1" fill="#fff"/>
<rect x="730" y="572" width="15" height="1" fill="#fff"/>
<rect x="746" y="572" width="15" height="1" fill="#fff"/>
<rect x="762" y="572" width="14" height="1" fill="#fff"/>
<rect x="777" y="572" width="15" height="1" fill="#fff"/>
<rect x="793" y="572" width="14" height="1" fill="#fff"/>
<rect x="808" y="572" width="9" height="1" fill="#fff"/>
<rect x="342" y="632" width="1" height="1" fill="#fff"/>
<rect x="532" y="591" width="1" height="1" fill="#fff"/>
<rect x="211" y="582" width="1" height="1" fill="#00ff00"/>
<rect x="212" y="583" width="2" height="1" fill="#00ff00"/>
<rect x="214" y="584" width="1" height="1" fill="#00ff00"/>
<rect x="215" y="585" width="2" height="1" fill="#00ff00"/>
<rect x="218" y="586" width="2" height="1" fill="#00ff00"/>
<rect x="220" y="587" width="2" height="1" fill="#00ff00"/>
<rect x="222" y="588" width="2" height="1" fill="#00ff00"/>
<rect x="224" y="589" width="1" height="1" fill="#00ff00"/>
<rect x="225" y="590" width="1" height="1" fill="#00ff00"/>
<rect x="226" y="591" width="2" height="1" fill="#00ff00"/>
<rect x="228" y="592" width="2" height="1" fill="#00ff00"/>
<rect x="230" y="593" width="2" height="1" fill="#00ff00"/>
<rect x="233" y="594" width="1" height="1" fill="#00ff00"/>
<rect x="234" y="595" width="2" height="1" fill="#00ff00"/>
<rect x="236" y="596" width="2" height="1" fill="#00ff00"/>
<rect x="238" y="597" width="2" height="1" fill="#00ff00"/>
<rect x="240" y="598" width="2" height="1" fill="#00ff00"/>
<rect x="242" y="599" width="2" height="1" fill="#00ff00"/>
<rect x="244" y="600" width="2" height="1" fill="#00ff00"/>
<rect x="246" y="601" width="2" height="1" fill="#00ff00"/>
<rect x="249" y="602" width="1" height="1" fill="#00ff00"/>
<rect x="250" y="603" width="2" height="1" fill="#00ff00"/>
<rect x="252" y="604" width="2" height="1" fill="#00ff00"/>
<rect x="254" y="605" width="2" height="1" fill="#00ff00"/>
<rect x="256" y="606" width="2" height="1" fill="#00ff00"/>
<rect x="258" y="607" width="2" height="1" fill="#00ff00"/>
<rect x="260" y="608" width="2" height="1" fill="#00ff00"/>
<rect x="262" y="609" width="1" height="1" fill="#00ff00"/>
<rect x="264" y="609" width="1" height="1" fill="#00ff00"/>
<rect x="265" y="610" width="2" height="1" fill="#00ff00"/>
<rect x="267" y="611" width="3" height="1" fill="#00ff00"/>
<rect x="270" y="612" width="2" height="1" fill="#00ff00"/>
<rect x="272" y="613" width="3" height="1" fill="#00ff00"/>
<rect x="275" y="614" width="3" height="1" fill="#00ff00"/>
<rect x="278" y="615" width="1" height="1" fill="#00ff00"/>
<rect x="280" y="615" width="1" height="1" fill="#00ff00"/>
<rect x="281" y="616" width="4" height="1" fill="#00ff00"/>
<rect x="285" y="617" width="3" height="1" fill="#00ff00"/>
<rect x="288" y="618" width="3" height="1" fill="#00ff00"/>
<rect x="291" y="619" width="3" height="1" fill="#00ff00"/>
<rect x="295" y="620" width="4" height="1" fill="#00ff00"/>
<rect x="299" y="621" width="4" height="1" fill="#00ff00"/>
<rect x="303" y="622" width="4" height="1" fill="#00ff00"/>
<rect x="307" y="623" width="3" height="1" fill="#00ff00"/>
<rect x="311" y="623" width="1" height="1" fill="#00ff00"/>
<rect x="312" y="624" width="5" height="1" fill="#00ff00"/>
<rect x="317" y="625" width="7" height="1" fill="#00ff00"/>
<rect x="324" y="626" width="1" height="1" fill="#00ff00"/>
<rect x="326" y="626" width="4" height="1" fill="#00ff00"/>
<rect x="330" y="627" width="6" height="1" fill="#00ff00"/>
<rect x="336" y="628" width="5" height="1" fill="#00ff00"/>
<rect x="342" y="629" width="8" height="1" fill="#00ff00"/>
<rect x="350" y="630" width="7" height="1" fill="#00ff00"/>
<rect x="358" y="630" width="1" height="1" fill="#00ff00"/>
<rect x="359" y="631" width="11" height="1" fill="#00ff00"/>
<rect x="370" y="632" width="2" height="1" fill="#00ff00"/>
<rect x="373" y="632" width="14" height="1" fill="#00ff00"/>
<rect x="387" y="633" width="1" height="1" fill="#00ff00"/>
<rect x="389" y="633" width="14" height="1" fill="#00ff00"/>
<rect x="404" y="633" width="15" height="1" fill="#00ff00"/>
<rect x="420" y="633" width="14" height="1" fill="#00ff00"/>
<rect x="435" y="633" width="15" height="1" fill="#00ff00"/>
<rect x="451" y="633" width="3" height="1" fill="#00ff00"/>
<rect x="454" y="632" width="11" height="1" fill="#00ff00"/>
<rect x="466" y="632" width="4" height="1" fill="#00ff00"/>
<rect x="470" y="631" width="11" height="1" fill="#00ff00"/>
<rect x="482" y="631" width="6" height="1" fill="#00ff00"/>
<rect x="488" y="630" width="8" height="1" fill="#00ff00"/>
<rect x="497" y="630" width="9" height="1" fill="#00ff00"/>
<rect x="506" y="629" width="6" height="1" fill="#00ff00"/>
<rect x="513" y="629" width="7" height="1" fill="#00ff00"/>
<rect x="520" y="628" width="7" height="1" fill="#00ff00"/>
<rect x="528" y="627" width="10" height="1" fill="#00ff00"/>
<rect x="538" y="626" width="5" height="1" fill="#00ff00"/>
<rect x="544" y="626" width="5" height="1" fill="#00ff00"/>
<rect x="549" y="625" width="10" height="1" fill="#00ff00"/>
<rect x="560" y="624" width="11" height="1" fill="#00ff00"/>
<rect x="571" y="623" width="3" height="1" fill="#00ff00"/>
<rect x="575" y="623" width="6" height="1" fill="#00ff00"/>
<rect x="581" y="622" width="9" height="1" fill="#00ff00"/>
<rect x="591" y="622" width="1" height="1" fill="#00ff00"/>
<rect x="592" y="621" width="10" height="1" fill="#00ff00"/>
<rect x="602" y="620" width="3" height="1" fill="#00ff00"/>
<rect x="606" y="620" width="3" height="1" fill="#00ff00"/>
<rect x="609" y="619" width="7" height="1" fill="#00ff00"/>
<rect x="616" y="618" width="5" height="1" fill="#00ff00"/>
<rect x="622" y="618" width="2" height="1" fill="#00ff00"/>
<rect x="624" y="617" width="7" height="1" fill="#00ff00"/>
<rect x="631" y="616" width="5" height="1" fill="#00ff00"/>
<rect x="637" y="616" width="2" height="1" fill="#00ff00"/>
<rect x="639" y="615" width="7" height="1" fill="#00ff00"/>
<rect x="646" y="614" width="6" height="1" fill="#00ff00"/>
<rect x="653" y="613" width="7" height="1" fill="#00ff00"/>
<rect x="660" y="612" width="7" height="1" fill="#00ff00"/>
<rect x="668" y="611" width="7" height="1" fill="#00ff00"/>
<rect x="675" y="610" width="7" height="1" fill="#00ff00"/>
<rect x="682" y="609" width="1" height="1" fill="#00ff00"/>
<rect x="684" y="609" width="5" height="1" fill="#00ff00"/>
<rect x="689" y="608" width="6" height="1" fill="#00ff00"/>
<rect x="695" y="607" width="3" height="1" fill="#00ff00"/>
<rect x="699" y="607" width="3" height="1" fill="#00ff00"/>
<rect x="702" y="606" width="7" height="1" fill="#00ff00"/>
<rect x="709" y="605" width="5" height="1" fill="#00ff00"/>
<rect x="715" y="604" width="7" height="1" fill="#00ff00"/>
<rect x="722" y="603" width="6" height="1" fill="#00ff00"/>
<rect x="728" y="602" width="1" height="1" fill="#00ff00"/>
<rect x="730" y="602" width="5" height="1" fill="#00ff00"/>
<rect x="735" y="601" width="7" height="1" fill="#00ff00"/>
<rect x="742" y="600" width="3" height="1" fill="#00ff00"/>
<rect x="746" y="600" width="2" height="1" fill="#00ff00"/>
<rect x="748" y="599" width="7" height="1" fill="#00ff00"/>
<rect x="755" y="598" width="6" height="1" fill="#00ff00"/>
<rect x="762" y="597" width="6" height="1" fill="#00ff00"/>
<rect x="768" y="596" width="7" height="1" fill="#00ff00"/>
<rect x="775" y="595" width="1" height="1" fill="#00ff00"/>
<rect x="777" y="595" width="5" height="1" fill="#00ff00"/>
<rect x="782" y="594" width="6" height="1" fill="#00ff00"/>
<rect x="788" y="593" width="4" height="1" fill="#00ff00"/>
<rect x="793" y="593" width="2" height="1" fill="#00ff00"/>
<rect x="795" y="592" width="6" height="1" fill="#00ff00"/>
<rect x="801" y="591" width="6" height="1" fill="#00ff00"/>
<rect x="808" y="590" width="6" height="1" fill="#00ff00"/>
<rect x="814" y="589" width="7" height="1" fill="#00ff00"/>
<rect x="821" y="588" width="2" height="1" fill="#00ff00"/>
<rect x="824" y="588" width="3" height="1" fill="#00ff00"/>
<rect x="827" y="587" width="3" height="1" fill="#00ff00"/>
</g>
<g fill="none" stroke-linecap="round" stroke-linejoin="round" shape-rendering="crispEdges">
<path d="M416.98 21.36 416.98 20.79 417.47 19.64 417.95 19.07 418.91 18.50 420.84 18.50 421.81 19.07 422.29 19.64 422.77 20.79 422.77 21.93 422.29 23.07 421.33 24.79 416.50 30.50 423.26 30.50M430.49 18.50 429.04 19.07 428.08 20.79 427.59 23.64 427.59 25.36 428.08 28.21 429.04 29.93 430.49 30.50 431.45 30.50 432.90 29.93 433.87 28.21 434.35 25.36 434.35 23.64 433.87 20.79 432.90 19.07 431.45 18.50 430.49 18.50M441.58 18.50 440.14 19.07 439.17 20.79 438.69 23.64 438.69 25.36 439.17 28.21 440.14 29.93 441.58 30.50 442.55 30.50 444.00 29.93 444.96 28.21 445.44 25.36 445.44 23.64 444.96 20.79 444.00 19.07 442.55 18.50 441.58 18.50M454.64 18.50 449.82 26.50 457.06 26.50M454.64 18.50 454.64 30.50M469.15 16.21 460.46 34.50M473.56 21.36 473.56 20.79 474.04 19.64 474.53 19.07 475.49 18.50 477.42 18.50 478.39 19.07 478.87 19.64 479.35 20.79 479.35 21.93 478.87 23.07 477.90 24.79 473.08 30.50 479.83 30.50M486.59 18.50 485.14 19.07 484.66 20.21 484.66 21.36 485.14 22.50 486.10 23.07 488.03 23.64 489.48 24.21 490.45 25.36 490.93 26.50 490.93 28.21 490.45 29.36 489.96 29.93 488.52 30.50 486.59 30.50 485.14 29.93 484.66 29.36 484.17 28.21 484.17 26.50 484.66 25.36 485.62 24.21 487.07 23.64 489.00 23.07 489.96 22.50 490.45 21.36 490.45 20.21 489.96 19.07 488.52 18.50 486.59 18.50M494.94 20.79 495.91 20.21 497.35 18.50 497.35 30.50M514.25 18.50 512.80 19.07 511.83 20.79 511.35 23.64 511.35 25.36 511.83 28.21 512.80 29.93 514.25 30.50 515.21 30.50 516.66 29.93 517.63 28.21 518.11 25.36 518.11 23.64 517.63 20.79 516.66 19.07 515.21 18.50 514.25 18.50M522.93 21.36 522.93 20.79 523.41 19.64 523.89 19.07 524.86 18.50 526.79 18.50 527.75 19.07 528.24 19.64 528.72 20.79 528.72 21.93 528.24 23.07 527.27 24.79 522.45 30.50 529.20 30.50M533.66 20.50 534.63 20.50M533.66 21.36 534.63 21.36M533.66 29.93 534.63 29.93M533.66 30.50 534.63 30.50M541.98 18.50 540.53 19.07 539.57 20.79 539.09 23.64 539.09 25.36 539.57 28.21 540.53 29.93 541.98 30.50 542.95 30.50 544.40 29.93 545.36 28.21 545.84 25.36 545.84 23.64 545.36 20.79 544.40 19.07 542.95 18.50 541.98 18.50M551.15 18.50 556.45 18.50 553.56 23.07 555.01 23.07 555.97 23.64 556.45 24.21 556.94 25.93 556.94 27.07 556.45 28.79 555.49 29.93 554.04 30.50 552.59 30.50 551.15 29.93 550.66 29.36 550.18 28.21M561.40 20.50 562.36 20.50M561.40 21.36 562.36 21.36M561.40 29.93 562.36 29.93M561.40 30.50 562.36 30.50M569.72 18.50 568.27 19.07 567.30 20.79 566.82 23.64 566.82 25.36 567.30 28.21 568.27 29.93 569.72 30.50 570.68 30.50 572.13 29.93 573.10 28.21 573.58 25.36 573.58 23.64 573.10 20.79 572.13 19.07 570.68 18.50 569.72 18.50M580.81 18.50 579.36 19.07 578.40 20.79 577.92 23.64 577.92 25.36 578.40 28.21 579.36 29.93 580.81 30.50 581.78 30.50 583.22 29.93 584.19 28.21 584.67 25.36 584.67 23.64 584.19 20.79 583.22 19.07 581.78 18.50 580.81 18.50M589.13 29.93 590.10 29.93M589.13 30.50 590.10 30.50M597.45 18.50 596.00 19.07 595.04 20.79 594.56 23.64 594.56 25.36 595.04 28.21 596.00 29.93 597.45 30.50 598.42 30.50 599.86 29.93 600.83 28.21 601.31 25.36 601.31 23.64 600.83 20.79 599.86 19.07 598.42 18.50 597.45 18.50M608.55 18.50 607.10 19.07 606.13 20.79 605.65 23.64 605.65 25.36 606.13 28.21 607.10 29.93 608.55 30.50 609.51 30.50 610.96 29.93 611.92 28.21 612.41 25.36 612.41 23.64 611.92 20.79 610.96 19.07 609.51 18.50 608.55 18.50M619.64 18.50 618.19 19.07 617.23 20.79 616.74 23.64 616.74 25.36 617.23 28.21 618.19 29.93 619.64 30.50 620.60 30.50 622.05 29.93 623.02 28.21 623.50 25.36 623.50 23.64 623.02 20.79 622.05 19.07 620.60 18.50 619.64 18.50" stroke="#fff" stroke-width="1.6"/>
<path d="M265.50 40.50 265.50 51.50M265.50 40.50 271.74 40.50M265.50 45.74 269.34 45.74M265.50 51.50 271.74 51.50M275.94 40.50 275.94 51.50M275.94 51.50 281.70 51.50M291.56 42.07 290.60 41.02 289.16 40.50 287.24 40.50 285.80 41.02 284.84 42.07 284.84 43.12 285.32 44.17 285.80 44.69 286.76 45.21 289.64 46.26 290.60 46.79 291.08 47.31 291.56 48.36 291.56 49.93 290.60 50.98 289.16 51.50 287.24 51.50 285.80 50.98 284.84 49.93M302.59 42.07 301.63 41.02 300.19 40.50 298.27 40.50 296.83 41.02 295.87 42.07 295.87 43.12 296.35 44.17 296.83 44.69 297.79 45.21 300.67 46.26 301.63 46.79 302.11 47.31 302.59 48.36 302.59 49.93 301.63 50.98 300.19 51.50 298.27 51.50 296.83 50.98 295.87 49.93M314.13 43.12 313.65 42.07 312.69 41.02 311.73 40.50 309.82 40.50 308.86 41.02 307.90 42.07 307.42 43.12 306.94 44.69 306.94 47.31 307.42 48.88 307.90 49.93 308.86 50.98 309.82 51.50 311.73 51.50 312.69 50.98 313.65 49.93 314.13 48.88M318.53 40.50 318.53 51.50M323.37 40.50 323.37 51.50M323.37 51.50 329.13 51.50M340.50 38.40 331.86 55.17M345.03 40.50 345.03 51.50M345.03 40.50 348.87 51.50M352.71 40.50 348.87 51.50M352.71 40.50 352.71 51.50M358.16 40.50 358.16 51.50M358.16 40.50 364.39 40.50M358.16 45.74 362.00 45.74M358.16 51.50 364.39 51.50M368.01 44.17 373.29 51.50M373.29 44.17 368.01 51.50M386.84 40.50 386.84 51.50M386.84 40.50 393.07 40.50M386.84 45.74 390.68 45.74M386.84 51.50 393.07 51.50M397.28 40.50 397.28 51.50M397.28 51.50 403.04 51.50M412.89 42.07 411.93 41.02 410.49 40.50 408.58 40.50 407.14 41.02 406.18 42.07 406.18 43.12 406.66 44.17 407.14 44.69 408.10 45.21 410.97 46.26 411.93 46.79 412.41 47.31 412.89 48.36 412.89 49.93 411.93 50.98 410.49 51.50 408.58 51.50 407.14 50.98 406.18 49.93M419.34 46.79 425.10 46.79M434.43 40.50 432.99 41.02 432.03 42.60 431.55 45.21 431.55 46.79 432.03 49.40 432.99 50.98 434.43 51.50 435.39 51.50 436.82 50.98 437.78 49.40 438.26 46.79 438.26 45.21 437.78 42.60 436.82 41.02 435.39 40.50 434.43 40.50M449.29 40.50 444.50 51.50M442.58 40.50 449.29 40.50M462.91 40.50 462.91 51.50M462.91 51.50 468.67 51.50M472.36 40.50 472.36 51.50M472.36 40.50 476.68 40.50 478.12 41.02 478.60 41.55 479.08 42.60 479.08 43.64 478.60 44.69 478.12 45.21 476.68 45.74 472.36 45.74M475.72 45.74 479.08 51.50M485.52 46.79 491.28 46.79M498.28 40.50 498.28 51.50M498.28 40.50 502.60 40.50 504.04 41.02 504.52 41.55 505.00 42.60 505.00 43.64 504.52 44.69 504.04 45.21 502.60 45.74M498.28 45.74 502.60 45.74 504.04 46.26 504.52 46.79 505.00 47.83 505.00 49.40 504.52 50.45 504.04 50.98 502.60 51.50 498.28 51.50M509.76 40.50 509.76 51.50M514.55 44.17 509.76 49.40M511.68 47.31 515.03 51.50M540.00 38.40 539.04 39.45 538.08 41.02 537.12 43.12 536.64 45.74 536.64 47.83 537.12 50.45 538.08 52.55 539.04 54.12 540.00 55.17M543.99 47.31 549.74 47.31 549.74 46.26 549.27 45.21 548.79 44.69 547.83 44.17 546.39 44.17 545.43 44.69 544.47 45.74 543.99 47.31 543.99 48.36 544.47 49.93 545.43 50.98 546.39 51.50 547.83 51.50 548.79 50.98 549.74 49.93M554.32 44.17 554.32 51.50M554.32 47.31 554.80 45.74 555.76 44.69 556.72 44.17 558.16 44.17M566.84 44.17 566.84 52.55 566.36 54.12 565.88 54.64 564.92 55.17 563.48 55.17 562.52 54.64 561.56 53.60M566.84 45.74 565.88 44.69 564.92 44.17 563.48 44.17 562.52 44.69 561.56 45.74 561.08 47.31 561.08 48.36 561.56 49.93 562.52 50.98 563.48 51.50 564.92 51.50 565.88 50.98 566.84 49.93M576.81 45.74 576.33 44.69 574.89 44.17 573.45 44.17 572.01 44.69 571.53 45.74 572.01 46.79 572.97 47.31 575.37 47.83 576.33 48.36 576.81 49.40 576.81 49.93 576.33 50.98 574.89 51.50 573.45 51.50 572.01 50.98 571.53 49.93M589.24 38.40 580.60 55.17M596.80 38.40 595.84 39.45 594.88 41.02 593.93 43.12 593.45 45.74 593.45 47.83 593.93 50.45 594.88 52.55 595.84 54.12 596.80 55.17M606.55 45.74 605.59 44.69 604.63 44.17 603.19 44.17 602.23 44.69 601.27 45.74 600.79 47.31 600.79 48.36 601.27 49.93 602.23 50.98 603.19 51.50 604.63 51.50 605.59 50.98 606.55 49.93M611.63 44.17 611.63 51.50M611.63 46.26 613.07 44.69 614.03 44.17 615.47 44.17 616.43 44.69 616.91 46.26 616.91 51.50M616.91 46.26 618.35 44.69 619.31 44.17 620.75 44.17 621.71 44.69 622.19 46.26 622.19 51.50M629.60 40.50 629.60 46.79M627.20 42.07 631.99 45.21M631.99 42.07 627.20 45.21M638.42 40.50 638.42 46.79M636.02 42.07 640.82 45.21M640.82 42.07 636.02 45.21M645.47 43.12 645.47 42.60 645.95 41.55 646.43 41.02 647.39 40.50 649.31 40.50 650.27 41.02 650.75 41.55 651.23 42.60 651.23 43.64 650.75 44.69 649.79 46.26 644.99 51.50 651.71 51.50M658.15 46.79 663.91 46.79M675.53 45.74 675.05 44.69 673.61 44.17 672.17 44.17 670.73 44.69 670.25 45.74 670.73 46.79 671.69 47.31 674.09 47.83 675.05 48.36 675.53 49.40 675.53 49.93 675.05 50.98 673.61 51.50 672.17 51.50 670.73 50.98 670.25 49.93M680.07 44.17 680.07 51.50M680.07 47.31 680.55 45.74 681.51 44.69 682.47 44.17 683.91 44.17M689.04 46.79 694.80 46.79M706.42 45.74 705.94 44.69 704.50 44.17 703.06 44.17 701.62 44.69 701.14 45.74 701.62 46.79 702.58 47.31 704.98 47.83 705.94 48.36 706.42 49.40 706.42 49.93 705.94 50.98 704.50 51.50 703.06 51.50 701.62 50.98 701.14 49.93M710.55 47.31 716.31 47.31 716.31 46.26 715.83 45.21 715.35 44.69 714.39 44.17 712.95 44.17 711.99 44.69 711.03 45.74 710.55 47.31 710.55 48.36 711.03 49.93 711.99 50.98 712.95 51.50 714.39 51.50 715.35 50.98 716.31 49.93M726.23 45.74 725.27 44.69 724.32 44.17 722.88 44.17 721.92 44.69 720.96 45.74 720.48 47.31 720.48 48.36 720.96 49.93 721.92 50.98 722.88 51.50 724.32 51.50 725.27 50.98 726.23 49.93M732.61 46.79 738.37 46.79M744.74 47.31 750.50 47.31 750.50 46.26 750.02 45.21 749.54 44.69 748.58 44.17 747.14 44.17 746.18 44.69 745.22 45.74 744.74 47.31 744.74 48.36 745.22 49.93 746.18 50.98 747.14 51.50 748.58 51.50 749.54 50.98 750.50 49.93M753.71 40.50 757.55 51.50M761.39 40.50 757.55 51.50M764.42 38.40 765.38 39.45 766.34 41.02 767.30 43.12 767.78 45.74 767.78 47.83 767.30 50.45 766.34 52.55 765.38 54.12 764.42 55.17M772.14 38.40 773.10 39.45 774.06 41.02 775.02 43.12 775.50 45.74 775.50 47.83 775.02 50.45 774.06 52.55 773.10 54.12 772.14 55.17" stroke="#fff" stroke-width="1.4"/>
<path d="M176.50 78.21 177.31 77.79 178.53 76.50 178.53 85.50M185.26 76.50 184.04 76.93 183.23 78.21 182.83 80.36 182.83 81.64 183.23 83.79 184.04 85.07 185.26 85.50 186.07 85.50 187.28 85.07 188.09 83.79 188.50 81.64 188.50 80.36 188.09 78.21 187.28 76.93 186.07 76.50 185.26 76.50" stroke="#fff" stroke-width="1.6"/>
<path d="M190.71 74.69 190.71 74.45 190.93 73.98 191.14 73.74 191.57 73.50 192.43 73.50 192.86 73.74 193.07 73.98 193.29 74.45 193.29 74.93 193.07 75.40 192.64 76.12 190.50 78.50 193.50 78.50" stroke="#fff" stroke-width="1.6"/>
<path d="M178.50 147.21 179.31 146.79 180.53 145.50 180.53 154.50M187.26 145.50 186.04 145.93 185.23 147.21 184.83 149.36 184.83 150.64 185.23 152.79 186.04 154.07 187.26 154.50 188.07 154.50 189.28 154.07 190.09 152.79 190.50 150.64 190.50 149.36 190.09 147.21 189.28 145.93 188.07 145.50 187.26 145.50" stroke="#fff" stroke-width="1.6"/>
<path d="M192.50 143.45 193.30 143.21 194.50 142.50 194.50 147.50" stroke="#fff" stroke-width="1.6"/>
<path d="M176.50 217.21 177.31 216.79 178.53 215.50 178.53 224.50M185.26 215.50 184.04 215.93 183.23 217.21 182.83 219.36 182.83 220.64 183.23 222.79 184.04 224.07 185.26 224.50 186.07 224.50 187.28 224.07 188.09 222.79 188.50 220.64 188.50 219.36 188.09 217.21 187.28 215.93 186.07 215.50 185.26 215.50" stroke="#fff" stroke-width="1.6"/>
<path d="M191.79 212.50 191.14 212.74 190.71 213.45 190.50 214.64 190.50 215.36 190.71 216.55 191.14 217.26 191.79 217.50 192.21 217.50 192.86 217.26 193.29 216.55 193.50 215.36 193.50 214.64 193.29 213.45 192.86 212.74 192.21 212.50 191.79 212.50" stroke="#fff" stroke-width="1.6"/>
<path d="M58.50 204.50 70.50 204.50M58.50 204.50 58.50 198.38M64.21 204.50 64.21 200.73M70.50 204.50 70.50 198.38M58.50 194.67 70.50 194.67M65.93 190.46 65.93 184.81 64.79 184.81 63.64 185.28 63.07 185.75 62.50 186.69 62.50 188.11 63.07 189.05 64.21 189.99 65.93 190.46 67.07 190.46 68.79 189.99 69.93 189.05 70.50 188.11 70.50 186.69 69.93 185.75 68.79 184.81M64.21 175.07 63.07 176.01 62.50 176.95 62.50 178.36 63.07 179.30 64.21 180.25 65.93 180.72 67.07 180.72 68.79 180.25 69.93 179.30 70.50 178.36 70.50 176.95 69.93 176.01 68.79 175.07M58.50 170.24 68.21 170.24 69.93 169.77 70.50 168.83 70.50 167.89M62.50 171.66 62.50 168.36M62.50 164.08 70.50 164.08M65.93 164.08 64.21 163.61 63.07 162.66 62.50 161.72 62.50 160.31M62.50 155.05 63.07 155.99 64.21 156.93 65.93 157.41 67.07 157.41 68.79 156.93 69.93 155.99 70.50 155.05 70.50 153.64 69.93 152.70 68.79 151.75 67.07 151.28 65.93 151.28 64.21 151.75 63.07 152.70 62.50 153.64 62.50 155.05M62.50 146.65 70.50 146.65M64.79 146.65 63.07 145.24 62.50 144.30 62.50 142.88 63.07 141.94 64.79 141.47 70.50 141.47M58.50 127.63 70.50 127.63M58.50 127.63 58.50 121.51M64.21 127.63 64.21 123.87M70.50 127.63 70.50 121.51M62.50 117.42 70.50 117.42M64.79 117.42 63.07 116.01 62.50 115.06 62.50 113.65 63.07 112.71 64.79 112.24 70.50 112.24M65.93 107.64 65.93 101.99 64.79 101.99 63.64 102.46 63.07 102.93 62.50 103.87 62.50 105.29 63.07 106.23 64.21 107.17 65.93 107.64 67.07 107.64 68.79 107.17 69.93 106.23 70.50 105.29 70.50 103.87 69.93 102.93 68.79 101.99M62.50 97.50 70.50 97.50M65.93 97.50 64.21 97.03 63.07 96.08 62.50 95.14 62.50 93.73M62.50 85.21 71.64 85.21 73.36 85.68 73.93 86.15 74.50 87.09 74.50 88.51 73.93 89.45 72.79 90.39M64.21 85.21 63.07 86.15 62.50 87.09 62.50 88.51 63.07 89.45 64.21 90.39 65.93 90.86 67.07 90.86 68.79 90.39 69.93 89.45 70.50 88.51 70.50 87.09 69.93 86.15 68.79 85.21M62.50 81.15 70.50 78.33M62.50 75.50 70.50 78.33 72.79 79.27 73.93 80.21 74.50 81.15 74.50 81.62" stroke="#fff" stroke-width="1.6"/>
<path d="M78.79 152.07 79.64 153.05 80.93 154.03 82.64 155.01 84.79 155.50 86.50 155.50 88.64 155.01 90.36 154.03 91.64 153.05 92.50 152.07M86.07 148.00 86.07 142.13 85.21 142.13 84.36 142.62 83.93 143.11 83.50 144.09 83.50 145.55 83.93 146.53 84.79 147.51 86.07 148.00 86.93 148.00 88.21 147.51 89.07 146.53 89.50 145.55 89.50 144.09 89.07 143.11 88.21 142.13M80.50 138.85 89.50 134.94M80.50 131.02 89.50 134.94M78.79 127.93 79.64 126.95 80.93 125.97 82.64 124.99 84.79 124.50 86.50 124.50 88.64 124.99 90.36 125.97 91.64 126.95 92.50 127.93" stroke="#fff" stroke-width="1.6"/>
<path d="M124.38 231.64 123.99 230.79 123.21 229.93 122.42 229.50 120.85 229.50 120.07 229.93 119.28 230.79 118.89 231.64 118.50 232.93 118.50 235.07 118.89 236.36 119.28 237.21 120.07 238.07 120.85 238.50 122.42 238.50 123.21 238.07 123.99 237.21 124.38 236.36 124.38 235.07M122.42 235.07 124.38 235.07M128.44 229.50 128.44 238.50M128.44 229.50 131.58 238.50M134.72 229.50 131.58 238.50M134.72 229.50 134.72 238.50M140.59 229.50 140.59 238.50M137.85 229.50 143.34 229.50M148.95 227.79 148.17 228.64 147.38 229.93 146.60 231.64 146.21 233.79 146.21 235.50 146.60 237.64 147.38 239.36 148.17 240.64 148.95 241.50M152.96 232.50 152.96 238.50M152.96 234.21 154.13 232.93 154.92 232.50 156.09 232.50 156.88 232.93 157.27 234.21 157.27 238.50M157.27 234.21 158.45 232.93 159.23 232.50 160.41 232.50 161.19 232.93 161.58 234.21 161.58 238.50M165.44 229.50 165.83 229.93 166.22 229.50 165.83 229.07 165.44 229.50M165.83 232.50 165.83 238.50M169.76 232.50 169.76 238.50M169.76 234.21 170.94 232.93 171.72 232.50 172.90 232.50 173.68 232.93 174.07 234.21 174.07 238.50M177.76 227.79 178.54 228.64 179.32 229.93 180.11 231.64 180.50 233.79 180.50 235.50 180.11 237.64 179.32 239.36 178.54 240.64 177.76 241.50" stroke="#fff" stroke-width="1.6"/>
<path d="M258.91 229.50 257.71 229.93 256.90 231.21 256.50 233.36 256.50 234.64 256.90 236.79 257.71 238.07 258.91 238.50 259.72 238.50 260.93 238.07 261.73 236.79 262.13 234.64 262.13 233.36 261.73 231.21 260.93 229.93 259.72 229.50 258.91 229.50M266.15 231.64 266.15 231.21 266.55 230.36 266.95 229.93 267.76 229.50 269.37 229.50 270.17 229.93 270.58 230.36 270.98 231.21 270.98 232.07 270.58 232.93 269.77 234.21 265.75 238.50 271.38 238.50M275.10 231.00 275.90 231.00M275.10 231.64 275.90 231.64M275.10 238.07 275.90 238.07M275.10 238.50 275.90 238.50M280.42 229.50 284.85 229.50 282.44 232.93 283.64 232.93 284.45 233.36 284.85 233.79 285.25 235.07 285.25 235.93 284.85 237.21 284.05 238.07 282.84 238.50 281.63 238.50 280.42 238.07 280.02 237.64 279.62 236.79M291.28 229.50 290.07 229.93 289.27 231.21 288.87 233.36 288.87 234.64 289.27 236.79 290.07 238.07 291.28 238.50 292.09 238.50 293.29 238.07 294.10 236.79 294.50 234.64 294.50 233.36 294.10 231.21 293.29 229.93 292.09 229.50 291.28 229.50" stroke="#fff" stroke-width="1.6"/>
<path d="M329.91 229.50 328.71 229.93 327.90 231.21 327.50 233.36 327.50 234.64 327.90 236.79 328.71 238.07 329.91 238.50 330.72 238.50 331.93 238.07 332.73 236.79 333.13 234.64 333.13 233.36 332.73 231.21 331.93 229.93 330.72 229.50 329.91 229.50M337.55 229.50 341.98 229.50 339.56 232.93 340.77 232.93 341.58 233.36 341.98 233.79 342.38 235.07 342.38 235.93 341.98 237.21 341.17 238.07 339.97 238.50 338.76 238.50 337.55 238.07 337.15 237.64 336.75 236.79M346.10 231.00 346.90 231.00M346.10 231.64 346.90 231.64M346.10 238.07 346.90 238.07M346.10 238.50 346.90 238.50M353.03 229.50 351.83 229.93 351.02 231.21 350.62 233.36 350.62 234.64 351.02 236.79 351.83 238.07 353.03 238.50 353.84 238.50 355.05 238.07 355.85 236.79 356.25 234.64 356.25 233.36 355.85 231.21 355.05 229.93 353.84 229.50 353.03 229.50M362.28 229.50 361.07 229.93 360.27 231.21 359.87 233.36 359.87 234.64 360.27 236.79 361.07 238.07 362.28 238.50 363.09 238.50 364.29 238.07 365.10 236.79 365.50 234.64 365.50 233.36 365.10 231.21 364.29 229.93 363.09 229.50 362.28 229.50" stroke="#fff" stroke-width="1.6"/>
<path d="M400.91 229.50 399.71 229.93 398.90 231.21 398.50 233.36 398.50 234.64 398.90 236.79 399.71 238.07 400.91 238.50 401.72 238.50 402.93 238.07 403.73 236.79 404.13 234.64 404.13 233.36 403.73 231.21 402.93 229.93 401.72 229.50 400.91 229.50M408.55 229.50 412.98 229.50 410.56 232.93 411.77 232.93 412.58 233.36 412.98 233.79 413.38 235.07 413.38 235.93 412.98 237.21 412.17 238.07 410.97 238.50 409.76 238.50 408.55 238.07 408.15 237.64 407.75 236.79M417.10 231.00 417.90 231.00M417.10 231.64 417.90 231.64M417.10 238.07 417.90 238.07M417.10 238.50 417.90 238.50M422.42 229.50 426.85 229.50 424.44 232.93 425.64 232.93 426.45 233.36 426.85 233.79 427.25 235.07 427.25 235.93 426.85 237.21 426.05 238.07 424.84 238.50 423.63 238.50 422.42 238.07 422.02 237.64 421.62 236.79M433.28 229.50 432.07 229.93 431.27 231.21 430.87 233.36 430.87 234.64 431.27 236.79 432.07 238.07 433.28 238.50 434.09 238.50 435.29 238.07 436.10 236.79 436.50 234.64 436.50 233.36 436.10 231.21 435.29 229.93 434.09 229.50 433.28 229.50" stroke="#fff" stroke-width="1.6"/>
<path d="M472.91 229.50 471.71 229.93 470.90 231.21 470.50 233.36 470.50 234.64 470.90 236.79 471.71 238.07 472.91 238.50 473.72 238.50 474.93 238.07 475.73 236.79 476.13 234.64 476.13 233.36 475.73 231.21 474.93 229.93 473.72 229.50 472.91 229.50M483.80 229.50 479.78 235.50 485.81 235.50M483.80 229.50 483.80 238.50M489.10 231.00 489.90 231.00M489.10 231.64 489.90 231.64M489.10 238.07 489.90 238.07M489.10 238.50 489.90 238.50M496.03 229.50 494.83 229.93 494.02 231.21 493.62 233.36 493.62 234.64 494.02 236.79 494.83 238.07 496.03 238.50 496.84 238.50 498.05 238.07 498.85 236.79 499.25 234.64 499.25 233.36 498.85 231.21 498.05 229.93 496.84 229.50 496.03 229.50M505.28 229.50 504.07 229.93 503.27 231.21 502.87 233.36 502.87 234.64 503.27 236.79 504.07 238.07 505.28 238.50 506.09 238.50 507.29 238.07 508.10 236.79 508.50 234.64 508.50 233.36 508.10 231.21 507.29 229.93 506.09 229.50 505.28 229.50" stroke="#fff" stroke-width="1.6"/>
<path d="M543.91 229.50 542.71 229.93 541.90 231.21 541.50 233.36 541.50 234.64 541.90 236.79 542.71 238.07 543.91 238.50 544.72 238.50 545.93 238.07 546.73 236.79 547.13 234.64 547.13 233.36 546.73 231.21 545.93 229.93 544.72 229.50 543.91 229.50M554.80 229.50 550.78 235.50 556.81 235.50M554.80 229.50 554.80 238.50M560.10 231.00 560.90 231.00M560.10 231.64 560.90 231.64M560.10 238.07 560.90 238.07M560.10 238.50 560.90 238.50M565.42 229.50 569.85 229.50 567.44 232.93 568.64 232.93 569.45 233.36 569.85 233.79 570.25 235.07 570.25 235.93 569.85 237.21 569.05 238.07 567.84 238.50 566.63 238.50 565.42 238.07 565.02 237.64 564.62 236.79M576.28 229.50 575.07 229.93 574.27 231.21 573.87 233.36 573.87 234.64 574.27 236.79 575.07 238.07 576.28 238.50 577.09 238.50 578.29 238.07 579.10 236.79 579.50 234.64 579.50 233.36 579.10 231.21 578.29 229.93 577.09 229.50 576.28 229.50" stroke="#fff" stroke-width="1.6"/>
<path d="M614.91 229.50 613.71 229.93 612.90 231.21 612.50 233.36 612.50 234.64 612.90 236.79 613.71 238.07 614.91 238.50 615.72 238.50 616.93 238.07 617.73 236.79 618.13 234.64 618.13 233.36 617.73 231.21 616.93 229.93 615.72 229.50 614.91 229.50M626.58 229.50 622.55 229.50 622.15 233.36 622.55 232.93 623.76 232.50 624.97 232.50 626.17 232.93 626.98 233.79 627.38 235.07 627.38 235.93 626.98 237.21 626.17 238.07 624.97 238.50 623.76 238.50 622.55 238.07 622.15 237.64 621.75 236.79M631.10 231.00 631.90 231.00M631.10 231.64 631.90 231.64M631.10 238.07 631.90 238.07M631.10 238.50 631.90 238.50M638.03 229.50 636.83 229.93 636.02 231.21 635.62 233.36 635.62 234.64 636.02 236.79 636.83 238.07 638.03 238.50 638.84 238.50 640.05 238.07 640.85 236.79 641.25 234.64 641.25 233.36 640.85 231.21 640.05 229.93 638.84 229.50 638.03 229.50M647.28 229.50 646.07 229.93 645.27 231.21 644.87 233.36 644.87 234.64 645.27 236.79 646.07 238.07 647.28 238.50 648.09 238.50 649.29 238.07 650.10 236.79 650.50 234.64 650.50 233.36 650.10 231.21 649.29 229.93 648.09 229.50 647.28 229.50" stroke="#fff" stroke-width="1.6"/>
<path d="M686.91 229.50 685.71 229.93 684.90 231.21 684.50 233.36 684.50 234.64 684.90 236.79 685.71 238.07 686.91 238.50 687.72 238.50 688.93 238.07 689.73 236.79 690.13 234.64 690.13 233.36 689.73 231.21 688.93 229.93 687.72 229.50 686.91 229.50M698.58 229.50 694.55 229.50 694.15 233.36 694.55 232.93 695.76 232.50 696.97 232.50 698.17 232.93 698.98 233.79 699.38 235.07 699.38 235.93 698.98 237.21 698.17 238.07 696.97 238.50 695.76 238.50 694.55 238.07 694.15 237.64 693.75 236.79M703.10 231.00 703.90 231.00M703.10 231.64 703.90 231.64M703.10 238.07 703.90 238.07M703.10 238.50 703.90 238.50M708.42 229.50 712.85 229.50 710.44 232.93 711.64 232.93 712.45 233.36 712.85 233.79 713.25 235.07 713.25 235.93 712.85 237.21 712.05 238.07 710.84 238.50 709.63 238.50 708.42 238.07 708.02 237.64 707.62 236.79M719.28 229.50 718.07 229.93 717.27 231.21 716.87 233.36 716.87 234.64 717.27 236.79 718.07 238.07 719.28 238.50 720.09 238.50 721.29 238.07 722.10 236.79 722.50 234.64 722.50 233.36 722.10 231.21 721.29 229.93 720.09 229.50 719.28 229.50" stroke="#fff" stroke-width="1.6"/>
<path d="M757.91 229.50 756.71 229.93 755.90 231.21 755.50 233.36 755.50 234.64 755.90 236.79 756.71 238.07 757.91 238.50 758.72 238.50 759.93 238.07 760.73 236.79 761.13 234.64 761.13 233.36 760.73 231.21 759.93 229.93 758.72 229.50 757.91 229.50M770.01 230.79 769.61 229.93 768.40 229.50 767.59 229.50 766.39 229.93 765.58 231.21 765.18 233.36 765.18 235.50 765.58 237.21 766.39 238.07 767.59 238.50 768.00 238.50 769.20 238.07 770.01 237.21 770.41 235.93 770.41 235.50 770.01 234.21 769.20 233.36 768.00 232.93 767.59 232.93 766.39 233.36 765.58 234.21 765.18 235.50M774.10 231.00 774.90 231.00M774.10 231.64 774.90 231.64M774.10 238.07 774.90 238.07M774.10 238.50 774.90 238.50M781.03 229.50 779.83 229.93 779.02 231.21 778.62 233.36 778.62 234.64 779.02 236.79 779.83 238.07 781.03 238.50 781.84 238.50 783.05 238.07 783.85 236.79 784.25 234.64 784.25 233.36 783.85 231.21 783.05 229.93 781.84 229.50 781.03 229.50M790.28 229.50 789.07 229.93 788.27 231.21 787.87 233.36 787.87 234.64 788.27 236.79 789.07 238.07 790.28 238.50 791.09 238.50 792.29 238.07 793.10 236.79 793.50 234.64 793.50 233.36 793.10 231.21 792.29 229.93 791.09 229.50 790.28 229.50" stroke="#fff" stroke-width="1.6"/>
<path d="M852.50 47.50 852.50 59.50M852.50 47.50 856.07 47.50 857.59 48.07 858.61 49.21 859.12 50.36 859.63 52.07 859.63 54.93 859.12 56.64 858.61 57.79 857.59 58.93 856.07 59.50 852.50 59.50M864.76 47.50 864.76 59.50M864.76 47.50 871.38 47.50M864.76 53.21 868.83 53.21M864.76 59.50 871.38 59.50M875.88 47.50 875.88 59.50M875.88 47.50 882.50 47.50M875.88 53.21 879.95 53.21" stroke="#fff" stroke-width="1.6"/>
<path d="M895.50 71.79 896.58 71.21 898.20 69.50 898.20 81.50M907.18 69.50 905.56 70.07 904.48 71.79 903.94 74.64 903.94 76.36 904.48 79.21 905.56 80.93 907.18 81.50 908.26 81.50 909.88 80.93 910.96 79.21 911.50 76.36 911.50 74.64 910.96 71.79 909.88 70.07 908.26 69.50 907.18 69.50" stroke="#fff" stroke-width="1.6"/>
<path d="M923.21 64.50 927.14 64.50 925.00 67.17 926.07 67.17 926.79 67.50 927.14 67.83 927.50 68.83 927.50 69.50 927.14 70.50 926.43 71.17 925.36 71.50 924.29 71.50 923.21 71.17 922.86 70.83 922.50 70.17" stroke="#fff" stroke-width="1.6"/>
<path d="M895.50 114.79 896.58 114.21 898.20 112.50 898.20 124.50M907.18 112.50 905.56 113.07 904.48 114.79 903.94 117.64 903.94 119.36 904.48 122.21 905.56 123.93 907.18 124.50 908.26 124.50 909.88 123.93 910.96 122.21 911.50 119.36 911.50 117.64 910.96 114.79 909.88 113.07 908.26 112.50 907.18 112.50" stroke="#fff" stroke-width="1.6"/>
<path d="M925.83 107.50 922.50 112.17 927.50 112.17M925.83 107.50 925.83 114.50" stroke="#fff" stroke-width="1.6"/>
<path d="M895.50 156.79 896.58 156.21 898.20 154.50 898.20 166.50M907.18 154.50 905.56 155.07 904.48 156.79 903.94 159.64 903.94 161.36 904.48 164.21 905.56 165.93 907.18 166.50 908.26 166.50 909.88 165.93 910.96 164.21 911.50 161.36 911.50 159.64 910.96 156.79 909.88 155.07 908.26 154.50 907.18 154.50" stroke="#fff" stroke-width="1.6"/>
<path d="M926.79 149.50 923.21 149.50 922.86 152.50 923.21 152.17 924.29 151.83 925.36 151.83 926.43 152.17 927.14 152.83 927.50 153.83 927.50 154.50 927.14 155.50 926.43 156.17 925.36 156.50 924.29 156.50 923.21 156.17 922.86 155.83 922.50 155.17" stroke="#fff" stroke-width="1.6"/>
<path d="M895.50 199.79 896.58 199.21 898.20 197.50 898.20 209.50M907.18 197.50 905.56 198.07 904.48 199.79 903.94 202.64 903.94 204.36 904.48 207.21 905.56 208.93 907.18 209.50 908.26 209.50 909.88 208.93 910.96 207.21 911.50 204.36 911.50 202.64 910.96 199.79 909.88 198.07 908.26 197.50 907.18 197.50" stroke="#fff" stroke-width="1.6"/>
<path d="M927.12 193.50 926.73 192.83 925.58 192.50 924.81 192.50 923.65 192.83 922.88 193.83 922.50 195.50 922.50 197.17 922.88 198.50 923.65 199.17 924.81 199.50 925.19 199.50 926.35 199.17 927.12 198.50 927.50 197.50 927.50 197.17 927.12 196.17 926.35 195.50 925.19 195.17 924.81 195.17 923.65 195.50 922.88 196.17 922.50 197.17" stroke="#fff" stroke-width="1.6"/>
<path d="M75.00 259.50 75.00 268.50M75.00 259.50 79.99 259.50M75.00 263.79 78.07 263.79M75.00 268.50 79.99 268.50M83.35 259.50 83.35 268.50M83.35 268.50 87.96 268.50M95.84 260.79 95.07 259.93 93.92 259.50 92.39 259.50 91.23 259.93 90.47 260.79 90.47 261.64 90.85 262.50 91.23 262.93 92.00 263.36 94.30 264.21 95.07 264.64 95.45 265.07 95.84 265.93 95.84 267.21 95.07 268.07 93.92 268.50 92.39 268.50 91.23 268.07 90.47 267.21M100.99 264.64 105.60 264.64M110.50 261.21 111.26 260.79 112.41 259.50 112.41 268.50M116.23 261.21 117.00 260.79 118.15 259.50 118.15 268.50M129.72 259.50 129.72 268.50M129.72 259.50 133.17 259.50 134.32 259.93 134.70 260.36 135.09 261.21 135.09 262.50 134.70 263.36 134.32 263.79 133.17 264.21 129.72 264.21M138.19 259.50 138.58 259.93 138.96 259.50 138.58 259.07 138.19 259.50M138.58 262.50 138.58 268.50M142.60 259.50 142.60 266.79 142.99 268.07 143.75 268.50 144.52 268.50M141.45 262.50 144.14 262.50M151.90 263.79 151.14 262.93 150.37 262.50 149.22 262.50 148.45 262.93 147.68 263.79 147.30 265.07 147.30 265.93 147.68 267.21 148.45 268.07 149.22 268.50 150.37 268.50 151.14 268.07 151.90 267.21M155.65 259.50 155.65 268.50M155.65 264.21 156.80 262.93 157.57 262.50 158.72 262.50 159.49 262.93 159.87 264.21 159.87 268.50M172.97 259.50 169.90 268.50M172.97 259.50 176.04 268.50M171.06 265.50 174.89 265.50M179.02 262.50 179.02 268.50M179.02 264.21 180.17 262.93 180.94 262.50 182.09 262.50 182.86 262.93 183.24 264.21 183.24 268.50M191.59 262.50 191.59 269.36 191.21 270.64 190.83 271.07 190.06 271.50 188.91 271.50 188.14 271.07 187.37 270.21M191.59 263.79 190.83 262.93 190.06 262.50 188.91 262.50 188.14 262.93 187.37 263.79 186.99 265.07 186.99 265.93 187.37 267.21 188.14 268.07 188.91 268.50 190.06 268.50 190.83 268.07 191.59 267.21M195.46 259.50 195.46 268.50M198.90 265.07 203.50 265.07 203.50 264.21 203.12 263.36 202.73 262.93 201.97 262.50 200.81 262.50 200.05 262.93 199.28 263.79 198.90 265.07 198.90 265.93 199.28 267.21 200.05 268.07 200.81 268.50 201.97 268.50 202.73 268.07 203.50 267.21" stroke="#fff" stroke-width="1.6"/>
<path d="M71.92 277.50 71.92 286.50M71.92 277.50 76.90 277.50M71.92 281.79 74.99 281.79M71.92 286.50 76.90 286.50M80.27 277.50 80.27 286.50M80.27 286.50 84.87 286.50M92.75 278.79 91.98 277.93 90.83 277.50 89.30 277.50 88.15 277.93 87.38 278.79 87.38 279.64 87.76 280.50 88.15 280.93 88.91 281.36 91.22 282.21 91.98 282.64 92.37 283.07 92.75 283.93 92.75 285.21 91.98 286.07 90.83 286.50 89.30 286.50 88.15 286.07 87.38 285.21M97.91 282.64 102.51 282.64M107.41 279.21 108.18 278.79 109.33 277.50 109.33 286.50M115.70 277.50 114.55 277.93 113.78 279.21 113.40 281.36 113.40 282.64 113.78 284.79 114.55 286.07 115.70 286.50 116.47 286.50 117.62 286.07 118.39 284.79 118.77 282.64 118.77 281.36 118.39 279.21 117.62 277.93 116.47 277.50 115.70 277.50M129.72 277.50 129.72 286.50M129.72 277.50 133.17 277.50 134.32 277.93 134.70 278.36 135.09 279.21 135.09 280.50 134.70 281.36 134.32 281.79 133.17 282.21 129.72 282.21M138.19 277.50 138.58 277.93 138.96 277.50 138.58 277.07 138.19 277.50M138.58 280.50 138.58 286.50M142.60 277.50 142.60 284.79 142.99 286.07 143.75 286.50 144.52 286.50M141.45 280.50 144.14 280.50M151.90 281.79 151.14 280.93 150.37 280.50 149.22 280.50 148.45 280.93 147.68 281.79 147.30 283.07 147.30 283.93 147.68 285.21 148.45 286.07 149.22 286.50 150.37 286.50 151.14 286.07 151.90 285.21M155.65 277.50 155.65 286.50M155.65 282.21 156.80 280.93 157.57 280.50 158.72 280.50 159.49 280.93 159.87 282.21 159.87 286.50M172.97 277.50 169.90 286.50M172.97 277.50 176.04 286.50M171.06 283.50 174.89 283.50M179.02 280.50 179.02 286.50M179.02 282.21 180.17 280.93 180.94 280.50 182.09 280.50 182.86 280.93 183.24 282.21 183.24 286.50M191.59 280.50 191.59 287.36 191.21 288.64 190.83 289.07 190.06 289.50 188.91 289.50 188.14 289.07 187.37 288.21M191.59 281.79 190.83 280.93 190.06 280.50 188.91 280.50 188.14 280.93 187.37 281.79 186.99 283.07 186.99 283.93 187.37 285.21 188.14 286.07 188.91 286.50 190.06 286.50 190.83 286.07 191.59 285.21M195.46 277.50 195.46 286.50M198.90 283.07 203.50 283.07 203.50 282.21 203.12 281.36 202.73 280.93 201.97 280.50 200.81 280.50 200.05 280.93 199.28 281.79 198.90 283.07 198.90 283.93 199.28 285.21 200.05 286.07 200.81 286.50 201.97 286.50 202.73 286.07 203.50 285.21" stroke="#fff" stroke-width="1.6"/>
<path d="M68.83 294.50 68.83 303.50M68.83 294.50 73.82 294.50M68.83 298.79 71.90 298.79M68.83 303.50 73.82 303.50M77.18 294.50 77.18 303.50M77.18 303.50 81.78 303.50M89.66 295.79 88.90 294.93 87.75 294.50 86.21 294.50 85.06 294.93 84.29 295.79 84.29 296.64 84.68 297.50 85.06 297.93 85.83 298.36 88.13 299.21 88.90 299.64 89.28 300.07 89.66 300.93 89.66 302.21 88.90 303.07 87.75 303.50 86.21 303.50 85.06 303.07 84.29 302.21M94.82 299.64 99.42 299.64M106.88 294.50 105.73 294.93 104.96 296.21 104.58 298.36 104.58 299.64 104.96 301.79 105.73 303.07 106.88 303.50 107.65 303.50 108.80 303.07 109.57 301.79 109.95 299.64 109.95 298.36 109.57 296.21 108.80 294.93 107.65 294.50 106.88 294.50M118.36 297.50 117.97 298.79 117.21 299.64 116.06 300.07 115.67 300.07 114.52 299.64 113.75 298.79 113.37 297.50 113.37 297.07 113.75 295.79 114.52 294.93 115.67 294.50 116.06 294.50 117.21 294.93 117.97 295.79 118.36 297.50 118.36 299.64 117.97 301.79 117.21 303.07 116.06 303.50 115.29 303.50 114.14 303.07 113.75 302.21M129.72 294.50 129.72 303.50M129.72 294.50 133.17 294.50 134.32 294.93 134.70 295.36 135.09 296.21 135.09 297.50 134.70 298.36 134.32 298.79 133.17 299.21 129.72 299.21M138.19 294.50 138.58 294.93 138.96 294.50 138.58 294.07 138.19 294.50M138.58 297.50 138.58 303.50M142.60 294.50 142.60 301.79 142.99 303.07 143.75 303.50 144.52 303.50M141.45 297.50 144.14 297.50M151.90 298.79 151.14 297.93 150.37 297.50 149.22 297.50 148.45 297.93 147.68 298.79 147.30 300.07 147.30 300.93 147.68 302.21 148.45 303.07 149.22 303.50 150.37 303.50 151.14 303.07 151.90 302.21M155.65 294.50 155.65 303.50M155.65 299.21 156.80 297.93 157.57 297.50 158.72 297.50 159.49 297.93 159.87 299.21 159.87 303.50M172.97 294.50 169.90 303.50M172.97 294.50 176.04 303.50M171.06 300.50 174.89 300.50M179.02 297.50 179.02 303.50M179.02 299.21 180.17 297.93 180.94 297.50 182.09 297.50 182.86 297.93 183.24 299.21 183.24 303.50M191.59 297.50 191.59 304.36 191.21 305.64 190.83 306.07 190.06 306.50 188.91 306.50 188.14 306.07 187.37 305.21M191.59 298.79 190.83 297.93 190.06 297.50 188.91 297.50 188.14 297.93 187.37 298.79 186.99 300.07 186.99 300.93 187.37 302.21 188.14 303.07 188.91 303.50 190.06 303.50 190.83 303.07 191.59 302.21M195.46 294.50 195.46 303.50M198.90 300.07 203.50 300.07 203.50 299.21 203.12 298.36 202.73 297.93 201.97 297.50 200.81 297.50 200.05 297.93 199.28 298.79 198.90 300.07 198.90 300.93 199.28 302.21 200.05 303.07 200.81 303.50 201.97 303.50 202.73 303.07 203.50 302.21" stroke="#fff" stroke-width="1.6"/>
<path d="M68.83 312.50 68.83 321.50M68.83 312.50 73.82 312.50M68.83 316.79 71.90 316.79M68.83 321.50 73.82 321.50M77.18 312.50 77.18 321.50M77.18 321.50 81.78 321.50M89.66 313.79 88.90 312.93 87.75 312.50 86.21 312.50 85.06 312.93 84.29 313.79 84.29 314.64 84.68 315.50 85.06 315.93 85.83 316.36 88.13 317.21 88.90 317.64 89.28 318.07 89.66 318.93 89.66 320.21 88.90 321.07 87.75 321.50 86.21 321.50 85.06 321.07 84.29 320.21M94.82 317.64 99.42 317.64M106.88 312.50 105.73 312.93 104.96 314.21 104.58 316.36 104.58 317.64 104.96 319.79 105.73 321.07 106.88 321.50 107.65 321.50 108.80 321.07 109.57 319.79 109.95 317.64 109.95 316.36 109.57 314.21 108.80 312.93 107.65 312.50 106.88 312.50M115.32 312.50 114.17 312.93 113.78 313.79 113.78 314.64 114.17 315.50 114.93 315.93 116.47 316.36 117.62 316.79 118.39 317.64 118.77 318.50 118.77 319.79 118.39 320.64 118.00 321.07 116.85 321.50 115.32 321.50 114.17 321.07 113.78 320.64 113.40 319.79 113.40 318.50 113.78 317.64 114.55 316.79 115.70 316.36 117.24 315.93 118.00 315.50 118.39 314.64 118.39 313.79 118.00 312.93 116.85 312.50 115.32 312.50M129.72 312.50 129.72 321.50M129.72 312.50 133.17 312.50 134.32 312.93 134.70 313.36 135.09 314.21 135.09 315.50 134.70 316.36 134.32 316.79 133.17 317.21 129.72 317.21M138.19 312.50 138.58 312.93 138.96 312.50 138.58 312.07 138.19 312.50M138.58 315.50 138.58 321.50M142.60 312.50 142.60 319.79 142.99 321.07 143.75 321.50 144.52 321.50M141.45 315.50 144.14 315.50M151.90 316.79 151.14 315.93 150.37 315.50 149.22 315.50 148.45 315.93 147.68 316.79 147.30 318.07 147.30 318.93 147.68 320.21 148.45 321.07 149.22 321.50 150.37 321.50 151.14 321.07 151.90 320.21M155.65 312.50 155.65 321.50M155.65 317.21 156.80 315.93 157.57 315.50 158.72 315.50 159.49 315.93 159.87 317.21 159.87 321.50M172.97 312.50 169.90 321.50M172.97 312.50 176.04 321.50M171.06 318.50 174.89 318.50M179.02 315.50 179.02 321.50M179.02 317.21 180.17 315.93 180.94 315.50 182.09 315.50 182.86 315.93 183.24 317.21 183.24 321.50M191.59 315.50 191.59 322.36 191.21 323.64 190.83 324.07 190.06 324.50 188.91 324.50 188.14 324.07 187.37 323.21M191.59 316.79 190.83 315.93 190.06 315.50 188.91 315.50 188.14 315.93 187.37 316.79 186.99 318.07 186.99 318.93 187.37 320.21 188.14 321.07 188.91 321.50 190.06 321.50 190.83 321.07 191.59 320.21M195.46 312.50 195.46 321.50M198.90 318.07 203.50 318.07 203.50 317.21 203.12 316.36 202.73 315.93 201.97 315.50 200.81 315.50 200.05 315.93 199.28 316.79 198.90 318.07 198.90 318.93 199.28 320.21 200.05 321.07 200.81 321.50 201.97 321.50 202.73 321.07 203.50 320.21" stroke="#fff" stroke-width="1.6"/>
<path d="M68.83 329.50 68.83 338.50M68.83 329.50 73.82 329.50M68.83 333.79 71.90 333.79M68.83 338.50 73.82 338.50M77.18 329.50 77.18 338.50M77.18 338.50 81.78 338.50M89.66 330.79 88.90 329.93 87.75 329.50 86.21 329.50 85.06 329.93 84.29 330.79 84.29 331.64 84.68 332.50 85.06 332.93 85.83 333.36 88.13 334.21 88.90 334.64 89.28 335.07 89.66 335.93 89.66 337.21 88.90 338.07 87.75 338.50 86.21 338.50 85.06 338.07 84.29 337.21M94.82 334.64 99.42 334.64M106.88 329.50 105.73 329.93 104.96 331.21 104.58 333.36 104.58 334.64 104.96 336.79 105.73 338.07 106.88 338.50 107.65 338.50 108.80 338.07 109.57 336.79 109.95 334.64 109.95 333.36 109.57 331.21 108.80 329.93 107.65 329.50 106.88 329.50M118.77 329.50 114.93 338.50M113.40 329.50 118.77 329.50M129.72 329.50 129.72 338.50M129.72 329.50 133.17 329.50 134.32 329.93 134.70 330.36 135.09 331.21 135.09 332.50 134.70 333.36 134.32 333.79 133.17 334.21 129.72 334.21M138.19 329.50 138.58 329.93 138.96 329.50 138.58 329.07 138.19 329.50M138.58 332.50 138.58 338.50M142.60 329.50 142.60 336.79 142.99 338.07 143.75 338.50 144.52 338.50M141.45 332.50 144.14 332.50M151.90 333.79 151.14 332.93 150.37 332.50 149.22 332.50 148.45 332.93 147.68 333.79 147.30 335.07 147.30 335.93 147.68 337.21 148.45 338.07 149.22 338.50 150.37 338.50 151.14 338.07 151.90 337.21M155.65 329.50 155.65 338.50M155.65 334.21 156.80 332.93 157.57 332.50 158.72 332.50 159.49 332.93 159.87 334.21 159.87 338.50M172.97 329.50 169.90 338.50M172.97 329.50 176.04 338.50M171.06 335.50 174.89 335.50M179.02 332.50 179.02 338.50M179.02 334.21 180.17 332.93 180.94 332.50 182.09 332.50 182.86 332.93 183.24 334.21 183.24 338.50M191.59 332.50 191.59 339.36 191.21 340.64 190.83 341.07 190.06 341.50 188.91 341.50 188.14 341.07 187.37 340.21M191.59 333.79 190.83 332.93 190.06 332.50 188.91 332.50 188.14 332.93 187.37 333.79 186.99 335.07 186.99 335.93 187.37 337.21 188.14 338.07 188.91 338.50 190.06 338.50 190.83 338.07 191.59 337.21M195.46 329.50 195.46 338.50M198.90 335.07 203.50 335.07 203.50 334.21 203.12 333.36 202.73 332.93 201.97 332.50 200.81 332.50 200.05 332.93 199.28 333.79 198.90 335.07 198.90 335.93 199.28 337.21 200.05 338.07 200.81 338.50 201.97 338.50 202.73 338.07 203.50 337.21" stroke="#fff" stroke-width="1.6"/>
<path d="M68.83 347.50 68.83 356.50M68.83 347.50 73.82 347.50M68.83 351.79 71.90 351.79M68.83 356.50 73.82 356.50M77.18 347.50 77.18 356.50M77.18 356.50 81.78 356.50M89.66 348.79 88.90 347.93 87.75 347.50 86.21 347.50 85.06 347.93 84.29 348.79 84.29 349.64 84.68 350.50 85.06 350.93 85.83 351.36 88.13 352.21 88.90 352.64 89.28 353.07 89.66 353.93 89.66 355.21 88.90 356.07 87.75 356.50 86.21 356.50 85.06 356.07 84.29 355.21M94.82 352.64 99.42 352.64M106.88 347.50 105.73 347.93 104.96 349.21 104.58 351.36 104.58 352.64 104.96 354.79 105.73 356.07 106.88 356.50 107.65 356.50 108.80 356.07 109.57 354.79 109.95 352.64 109.95 351.36 109.57 349.21 108.80 347.93 107.65 347.50 106.88 347.50M118.42 348.79 118.03 347.93 116.88 347.50 116.11 347.50 114.96 347.93 114.20 349.21 113.81 351.36 113.81 353.50 114.20 355.21 114.96 356.07 116.11 356.50 116.50 356.50 117.65 356.07 118.42 355.21 118.80 353.93 118.80 353.50 118.42 352.21 117.65 351.36 116.50 350.93 116.11 350.93 114.96 351.36 114.20 352.21 113.81 353.50M129.72 347.50 129.72 356.50M129.72 347.50 133.17 347.50 134.32 347.93 134.70 348.36 135.09 349.21 135.09 350.50 134.70 351.36 134.32 351.79 133.17 352.21 129.72 352.21M138.19 347.50 138.58 347.93 138.96 347.50 138.58 347.07 138.19 347.50M138.58 350.50 138.58 356.50M142.60 347.50 142.60 354.79 142.99 356.07 143.75 356.50 144.52 356.50M141.45 350.50 144.14 350.50M151.90 351.79 151.14 350.93 150.37 350.50 149.22 350.50 148.45 350.93 147.68 351.79 147.30 353.07 147.30 353.93 147.68 355.21 148.45 356.07 149.22 356.50 150.37 356.50 151.14 356.07 151.90 355.21M155.65 347.50 155.65 356.50M155.65 352.21 156.80 350.93 157.57 350.50 158.72 350.50 159.49 350.93 159.87 352.21 159.87 356.50M172.97 347.50 169.90 356.50M172.97 347.50 176.04 356.50M171.06 353.50 174.89 353.50M179.02 350.50 179.02 356.50M179.02 352.21 180.17 350.93 180.94 350.50 182.09 350.50 182.86 350.93 183.24 352.21 183.24 356.50M191.59 350.50 191.59 357.36 191.21 358.64 190.83 359.07 190.06 359.50 188.91 359.50 188.14 359.07 187.37 358.21M191.59 351.79 190.83 350.93 190.06 350.50 188.91 350.50 188.14 350.93 187.37 351.79 186.99 353.07 186.99 353.93 187.37 355.21 188.14 356.07 188.91 356.50 190.06 356.50 190.83 356.07 191.59 355.21M195.46 347.50 195.46 356.50M198.90 353.07 203.50 353.07 203.50 352.21 203.12 351.36 202.73 350.93 201.97 350.50 200.81 350.50 200.05 350.93 199.28 351.79 198.90 353.07 198.90 353.93 199.28 355.21 200.05 356.07 200.81 356.50 201.97 356.50 202.73 356.07 203.50 355.21" stroke="#fff" stroke-width="1.6"/>
<path d="M68.83 364.50 68.83 373.50M68.83 364.50 73.82 364.50M68.83 368.79 71.90 368.79M68.83 373.50 73.82 373.50M77.18 364.50 77.18 373.50M77.18 373.50 81.78 373.50M89.66 365.79 88.90 364.93 87.75 364.50 86.21 364.50 85.06 364.93 84.29 365.79 84.29 366.64 84.68 367.50 85.06 367.93 85.83 368.36 88.13 369.21 88.90 369.64 89.28 370.07 89.66 370.93 89.66 372.21 88.90 373.07 87.75 373.50 86.21 373.50 85.06 373.07 84.29 372.21M94.82 369.64 99.42 369.64M106.88 364.50 105.73 364.93 104.96 366.21 104.58 368.36 104.58 369.64 104.96 371.79 105.73 373.07 106.88 373.50 107.65 373.50 108.80 373.07 109.57 371.79 109.95 369.64 109.95 368.36 109.57 366.21 108.80 364.93 107.65 364.50 106.88 364.50M118.00 364.50 114.17 364.50 113.78 368.36 114.17 367.93 115.32 367.50 116.47 367.50 117.62 367.93 118.39 368.79 118.77 370.07 118.77 370.93 118.39 372.21 117.62 373.07 116.47 373.50 115.32 373.50 114.17 373.07 113.78 372.64 113.40 371.79M129.72 364.50 129.72 373.50M129.72 364.50 133.17 364.50 134.32 364.93 134.70 365.36 135.09 366.21 135.09 367.50 134.70 368.36 134.32 368.79 133.17 369.21 129.72 369.21M138.19 364.50 138.58 364.93 138.96 364.50 138.58 364.07 138.19 364.50M138.58 367.50 138.58 373.50M142.60 364.50 142.60 371.79 142.99 373.07 143.75 373.50 144.52 373.50M141.45 367.50 144.14 367.50M151.90 368.79 151.14 367.93 150.37 367.50 149.22 367.50 148.45 367.93 147.68 368.79 147.30 370.07 147.30 370.93 147.68 372.21 148.45 373.07 149.22 373.50 150.37 373.50 151.14 373.07 151.90 372.21M155.65 364.50 155.65 373.50M155.65 369.21 156.80 367.93 157.57 367.50 158.72 367.50 159.49 367.93 159.87 369.21 159.87 373.50M172.97 364.50 169.90 373.50M172.97 364.50 176.04 373.50M171.06 370.50 174.89 370.50M179.02 367.50 179.02 373.50M179.02 369.21 180.17 367.93 180.94 367.50 182.09 367.50 182.86 367.93 183.24 369.21 183.24 373.50M191.59 367.50 191.59 374.36 191.21 375.64 190.83 376.07 190.06 376.50 188.91 376.50 188.14 376.07 187.37 375.21M191.59 368.79 190.83 367.93 190.06 367.50 188.91 367.50 188.14 367.93 187.37 368.79 186.99 370.07 186.99 370.93 187.37 372.21 188.14 373.07 188.91 373.50 190.06 373.50 190.83 373.07 191.59 372.21M195.46 364.50 195.46 373.50M198.90 370.07 203.50 370.07 203.50 369.21 203.12 368.36 202.73 367.93 201.97 367.50 200.81 367.50 200.05 367.93 199.28 368.79 198.90 370.07 198.90 370.93 199.28 372.21 200.05 373.07 200.81 373.50 201.97 373.50 202.73 373.07 203.50 372.21" stroke="#fff" stroke-width="1.6"/>
<path d="M68.83 382.50 68.83 391.50M68.83 382.50 73.82 382.50M68.83 386.79 71.90 386.79M68.83 391.50 73.82 391.50M77.18 382.50 77.18 391.50M77.18 391.50 81.78 391.50M89.66 383.79 88.90 382.93 87.75 382.50 86.21 382.50 85.06 382.93 84.29 383.79 84.29 384.64 84.68 385.50 85.06 385.93 85.83 386.36 88.13 387.21 88.90 387.64 89.28 388.07 89.66 388.93 89.66 390.21 88.90 391.07 87.75 391.50 86.21 391.50 85.06 391.07 84.29 390.21M94.82 387.64 99.42 387.64M106.88 382.50 105.73 382.93 104.96 384.21 104.58 386.36 104.58 387.64 104.96 389.79 105.73 391.07 106.88 391.50 107.65 391.50 108.80 391.07 109.57 389.79 109.95 387.64 109.95 386.36 109.57 384.21 108.80 382.93 107.65 382.50 106.88 382.50M117.26 382.50 113.43 388.50 119.18 388.50M117.26 382.50 117.26 391.50M129.72 382.50 129.72 391.50M129.72 382.50 133.17 382.50 134.32 382.93 134.70 383.36 135.09 384.21 135.09 385.50 134.70 386.36 134.32 386.79 133.17 387.21 129.72 387.21M138.19 382.50 138.58 382.93 138.96 382.50 138.58 382.07 138.19 382.50M138.58 385.50 138.58 391.50M142.60 382.50 142.60 389.79 142.99 391.07 143.75 391.50 144.52 391.50M141.45 385.50 144.14 385.50M151.90 386.79 151.14 385.93 150.37 385.50 149.22 385.50 148.45 385.93 147.68 386.79 147.30 388.07 147.30 388.93 147.68 390.21 148.45 391.07 149.22 391.50 150.37 391.50 151.14 391.07 151.90 390.21M155.65 382.50 155.65 391.50M155.65 387.21 156.80 385.93 157.57 385.50 158.72 385.50 159.49 385.93 159.87 387.21 159.87 391.50M172.97 382.50 169.90 391.50M172.97 382.50 176.04 391.50M171.06 388.50 174.89 388.50M179.02 385.50 179.02 391.50M179.02 387.21 180.17 385.93 180.94 385.50 182.09 385.50 182.86 385.93 183.24 387.21 183.24 391.50M191.59 385.50 191.59 392.36 191.21 393.64 190.83 394.07 190.06 394.50 188.91 394.50 188.14 394.07 187.37 393.21M191.59 386.79 190.83 385.93 190.06 385.50 188.91 385.50 188.14 385.93 187.37 386.79 186.99 388.07 186.99 388.93 187.37 390.21 188.14 391.07 188.91 391.50 190.06 391.50 190.83 391.07 191.59 390.21M195.46 382.50 195.46 391.50M198.90 388.07 203.50 388.07 203.50 387.21 203.12 386.36 202.73 385.93 201.97 385.50 200.81 385.50 200.05 385.93 199.28 386.79 198.90 388.07 198.90 388.93 199.28 390.21 200.05 391.07 200.81 391.50 201.97 391.50 202.73 391.07 203.50 390.21" stroke="#fff" stroke-width="1.6"/>
<path d="M68.83 399.50 68.83 408.50M68.83 399.50 73.82 399.50M68.83 403.79 71.90 403.79M68.83 408.50 73.82 408.50M77.18 399.50 77.18 408.50M77.18 408.50 81.78 408.50M89.66 400.79 88.90 399.93 87.75 399.50 86.21 399.50 85.06 399.93 84.29 400.79 84.29 401.64 84.68 402.50 85.06 402.93 85.83 403.36 88.13 404.21 88.90 404.64 89.28 405.07 89.66 405.93 89.66 407.21 88.90 408.07 87.75 408.50 86.21 408.50 85.06 408.07 84.29 407.21M94.82 404.64 99.42 404.64M106.88 399.50 105.73 399.93 104.96 401.21 104.58 403.36 104.58 404.64 104.96 406.79 105.73 408.07 106.88 408.50 107.65 408.50 108.80 408.07 109.57 406.79 109.95 404.64 109.95 403.36 109.57 401.21 108.80 399.93 107.65 399.50 106.88 399.50M114.17 399.50 118.39 399.50 116.08 402.93 117.24 402.93 118.00 403.36 118.39 403.79 118.77 405.07 118.77 405.93 118.39 407.21 117.62 408.07 116.47 408.50 115.32 408.50 114.17 408.07 113.78 407.64 113.40 406.79M129.72 399.50 129.72 408.50M129.72 399.50 133.17 399.50 134.32 399.93 134.70 400.36 135.09 401.21 135.09 402.50 134.70 403.36 134.32 403.79 133.17 404.21 129.72 404.21M138.19 399.50 138.58 399.93 138.96 399.50 138.58 399.07 138.19 399.50M138.58 402.50 138.58 408.50M142.60 399.50 142.60 406.79 142.99 408.07 143.75 408.50 144.52 408.50M141.45 402.50 144.14 402.50M151.90 403.79 151.14 402.93 150.37 402.50 149.22 402.50 148.45 402.93 147.68 403.79 147.30 405.07 147.30 405.93 147.68 407.21 148.45 408.07 149.22 408.50 150.37 408.50 151.14 408.07 151.90 407.21M155.65 399.50 155.65 408.50M155.65 404.21 156.80 402.93 157.57 402.50 158.72 402.50 159.49 402.93 159.87 404.21 159.87 408.50M172.97 399.50 169.90 408.50M172.97 399.50 176.04 408.50M171.06 405.50 174.89 405.50M179.02 402.50 179.02 408.50M179.02 404.21 180.17 402.93 180.94 402.50 182.09 402.50 182.86 402.93 183.24 404.21 183.24 408.50M191.59 402.50 191.59 409.36 191.21 410.64 190.83 411.07 190.06 411.50 188.91 411.50 188.14 411.07 187.37 410.21M191.59 403.79 190.83 402.93 190.06 402.50 188.91 402.50 188.14 402.93 187.37 403.79 186.99 405.07 186.99 405.93 187.37 407.21 188.14 408.07 188.91 408.50 190.06 408.50 190.83 408.07 191.59 407.21M195.46 399.50 195.46 408.50M198.90 405.07 203.50 405.07 203.50 404.21 203.12 403.36 202.73 402.93 201.97 402.50 200.81 402.50 200.05 402.93 199.28 403.79 198.90 405.07 198.90 405.93 199.28 407.21 200.05 408.07 200.81 408.50 201.97 408.50 202.73 408.07 203.50 407.21" stroke="#fff" stroke-width="1.6"/>
<path d="M68.83 417.50 68.83 426.50M68.83 417.50 73.82 417.50M68.83 421.79 71.90 421.79M68.83 426.50 73.82 426.50M77.18 417.50 77.18 426.50M77.18 426.50 81.78 426.50M89.66 418.79 88.90 417.93 87.75 417.50 86.21 417.50 85.06 417.93 84.29 418.79 84.29 419.64 84.68 420.50 85.06 420.93 85.83 421.36 88.13 422.21 88.90 422.64 89.28 423.07 89.66 423.93 89.66 425.21 88.90 426.07 87.75 426.50 86.21 426.50 85.06 426.07 84.29 425.21M94.82 422.64 99.42 422.64M106.88 417.50 105.73 417.93 104.96 419.21 104.58 421.36 104.58 422.64 104.96 424.79 105.73 426.07 106.88 426.50 107.65 426.50 108.80 426.07 109.57 424.79 109.95 422.64 109.95 421.36 109.57 419.21 108.80 417.93 107.65 417.50 106.88 417.50M113.78 419.64 113.78 419.21 114.17 418.36 114.55 417.93 115.32 417.50 116.85 417.50 117.62 417.93 118.00 418.36 118.39 419.21 118.39 420.07 118.00 420.93 117.24 422.21 113.40 426.50 118.77 426.50M129.72 417.50 129.72 426.50M129.72 417.50 133.17 417.50 134.32 417.93 134.70 418.36 135.09 419.21 135.09 420.50 134.70 421.36 134.32 421.79 133.17 422.21 129.72 422.21M138.19 417.50 138.58 417.93 138.96 417.50 138.58 417.07 138.19 417.50M138.58 420.50 138.58 426.50M142.60 417.50 142.60 424.79 142.99 426.07 143.75 426.50 144.52 426.50M141.45 420.50 144.14 420.50M151.90 421.79 151.14 420.93 150.37 420.50 149.22 420.50 148.45 420.93 147.68 421.79 147.30 423.07 147.30 423.93 147.68 425.21 148.45 426.07 149.22 426.50 150.37 426.50 151.14 426.07 151.90 425.21M155.65 417.50 155.65 426.50M155.65 422.21 156.80 420.93 157.57 420.50 158.72 420.50 159.49 420.93 159.87 422.21 159.87 426.50M172.97 417.50 169.90 426.50M172.97 417.50 176.04 426.50M171.06 423.50 174.89 423.50M179.02 420.50 179.02 426.50M179.02 422.21 180.17 420.93 180.94 420.50 182.09 420.50 182.86 420.93 183.24 422.21 183.24 426.50M191.59 420.50 191.59 427.36 191.21 428.64 190.83 429.07 190.06 429.50 188.91 429.50 188.14 429.07 187.37 428.21M191.59 421.79 190.83 420.93 190.06 420.50 188.91 420.50 188.14 420.93 187.37 421.79 186.99 423.07 186.99 423.93 187.37 425.21 188.14 426.07 188.91 426.50 190.06 426.50 190.83 426.07 191.59 425.21M195.46 417.50 195.46 426.50M198.90 423.07 203.50 423.07 203.50 422.21 203.12 421.36 202.73 420.93 201.97 420.50 200.81 420.50 200.05 420.93 199.28 421.79 198.90 423.07 198.90 423.93 199.28 425.21 200.05 426.07 200.81 426.50 201.97 426.50 202.73 426.07 203.50 425.21" stroke="#fff" stroke-width="1.6"/>
<path d="M71.92 435.50 71.92 444.50M71.92 435.50 76.90 435.50M71.92 439.79 74.99 439.79M71.92 444.50 76.90 444.50M80.27 435.50 80.27 444.50M80.27 444.50 84.87 444.50M92.75 436.79 91.98 435.93 90.83 435.50 89.30 435.50 88.15 435.93 87.38 436.79 87.38 437.64 87.76 438.50 88.15 438.93 88.91 439.36 91.22 440.21 91.98 440.64 92.37 441.07 92.75 441.93 92.75 443.21 91.98 444.07 90.83 444.50 89.30 444.50 88.15 444.07 87.38 443.21M97.91 440.64 102.51 440.64M109.97 435.50 108.82 435.93 108.05 437.21 107.67 439.36 107.67 440.64 108.05 442.79 108.82 444.07 109.97 444.50 110.74 444.50 111.89 444.07 112.65 442.79 113.04 440.64 113.04 439.36 112.65 437.21 111.89 435.93 110.74 435.50 109.97 435.50M116.23 437.21 117.00 436.79 118.15 435.50 118.15 444.50M129.72 435.50 129.72 444.50M129.72 435.50 133.17 435.50 134.32 435.93 134.70 436.36 135.09 437.21 135.09 438.50 134.70 439.36 134.32 439.79 133.17 440.21 129.72 440.21M138.19 435.50 138.58 435.93 138.96 435.50 138.58 435.07 138.19 435.50M138.58 438.50 138.58 444.50M142.60 435.50 142.60 442.79 142.99 444.07 143.75 444.50 144.52 444.50M141.45 438.50 144.14 438.50M151.90 439.79 151.14 438.93 150.37 438.50 149.22 438.50 148.45 438.93 147.68 439.79 147.30 441.07 147.30 441.93 147.68 443.21 148.45 444.07 149.22 444.50 150.37 444.50 151.14 444.07 151.90 443.21M155.65 435.50 155.65 444.50M155.65 440.21 156.80 438.93 157.57 438.50 158.72 438.50 159.49 438.93 159.87 440.21 159.87 444.50M172.97 435.50 169.90 444.50M172.97 435.50 176.04 444.50M171.06 441.50 174.89 441.50M179.02 438.50 179.02 444.50M179.02 440.21 180.17 438.93 180.94 438.50 182.09 438.50 182.86 438.93 183.24 440.21 183.24 444.50M191.59 438.50 191.59 445.36 191.21 446.64 190.83 447.07 190.06 447.50 188.91 447.50 188.14 447.07 187.37 446.21M191.59 439.79 190.83 438.93 190.06 438.50 188.91 438.50 188.14 438.93 187.37 439.79 186.99 441.07 186.99 441.93 187.37 443.21 188.14 444.07 188.91 444.50 190.06 444.50 190.83 444.07 191.59 443.21M195.46 435.50 195.46 444.50M198.90 441.07 203.50 441.07 203.50 440.21 203.12 439.36 202.73 438.93 201.97 438.50 200.81 438.50 200.05 438.93 199.28 439.79 198.90 441.07 198.90 441.93 199.28 443.21 200.05 444.07 200.81 444.50 201.97 444.50 202.73 444.07 203.50 443.21" stroke="#fff" stroke-width="1.6"/>
<path d="M125.48 461.40 125.08 460.64 124.28 459.88 123.48 459.50 121.89 459.50 121.09 459.88 120.30 460.64 119.90 461.40 119.50 462.55 119.50 464.45 119.90 465.60 120.30 466.36 121.09 467.12 121.89 467.50 123.48 467.50 124.28 467.12 125.08 466.36 125.48 465.60 125.48 464.45M123.48 464.45 125.48 464.45M129.60 459.50 129.60 467.50M129.60 459.50 132.79 467.50M135.98 459.50 132.79 467.50M135.98 459.50 135.98 467.50M141.95 459.50 141.95 467.50M139.16 459.50 144.74 459.50M150.44 457.98 149.65 458.74 148.85 459.88 148.05 461.40 147.65 463.31 147.65 464.83 148.05 466.74 148.85 468.26 149.65 469.40 150.44 470.17M154.51 462.17 154.51 467.50M154.51 463.69 155.71 462.55 156.50 462.17 157.70 462.17 158.50 462.55 158.90 463.69 158.90 467.50M158.90 463.69 160.09 462.55 160.89 462.17 162.08 462.17 162.88 462.55 163.28 463.69 163.28 467.50M167.20 459.50 167.60 459.88 167.99 459.50 167.60 459.12 167.20 459.50M167.60 462.17 167.60 467.50M171.59 462.17 171.59 467.50M171.59 463.69 172.78 462.55 173.58 462.17 174.77 462.17 175.57 462.55 175.97 463.69 175.97 467.50M179.71 457.98 180.51 458.74 181.30 459.88 182.10 461.40 182.50 463.31 182.50 464.83 182.10 466.74 181.30 468.26 180.51 469.40 179.71 470.17" stroke="#fff" stroke-width="1.6"/>
<path d="M258.91 459.50 257.71 459.88 256.90 461.02 256.50 462.93 256.50 464.07 256.90 465.98 257.71 467.12 258.91 467.50 259.72 467.50 260.93 467.12 261.73 465.98 262.13 464.07 262.13 462.93 261.73 461.02 260.93 459.88 259.72 459.50 258.91 459.50M266.15 461.40 266.15 461.02 266.55 460.26 266.95 459.88 267.76 459.50 269.37 459.50 270.17 459.88 270.58 460.26 270.98 461.02 270.98 461.79 270.58 462.55 269.77 463.69 265.75 467.50 271.38 467.50M275.10 460.83 275.90 460.83M275.10 461.40 275.90 461.40M275.10 467.12 275.90 467.12M275.10 467.50 275.90 467.50M280.42 459.50 284.85 459.50 282.44 462.55 283.64 462.55 284.45 462.93 284.85 463.31 285.25 464.45 285.25 465.21 284.85 466.36 284.05 467.12 282.84 467.50 281.63 467.50 280.42 467.12 280.02 466.74 279.62 465.98M291.28 459.50 290.07 459.88 289.27 461.02 288.87 462.93 288.87 464.07 289.27 465.98 290.07 467.12 291.28 467.50 292.09 467.50 293.29 467.12 294.10 465.98 294.50 464.07 294.50 462.93 294.10 461.02 293.29 459.88 292.09 459.50 291.28 459.50" stroke="#fff" stroke-width="1.6"/>
<path d="M329.91 459.50 328.71 459.88 327.90 461.02 327.50 462.93 327.50 464.07 327.90 465.98 328.71 467.12 329.91 467.50 330.72 467.50 331.93 467.12 332.73 465.98 333.13 464.07 333.13 462.93 332.73 461.02 331.93 459.88 330.72 459.50 329.91 459.50M337.55 459.50 341.98 459.50 339.56 462.55 340.77 462.55 341.58 462.93 341.98 463.31 342.38 464.45 342.38 465.21 341.98 466.36 341.17 467.12 339.97 467.50 338.76 467.50 337.55 467.12 337.15 466.74 336.75 465.98M346.10 460.83 346.90 460.83M346.10 461.40 346.90 461.40M346.10 467.12 346.90 467.12M346.10 467.50 346.90 467.50M353.03 459.50 351.83 459.88 351.02 461.02 350.62 462.93 350.62 464.07 351.02 465.98 351.83 467.12 353.03 467.50 353.84 467.50 355.05 467.12 355.85 465.98 356.25 464.07 356.25 462.93 355.85 461.02 355.05 459.88 353.84 459.50 353.03 459.50M362.28 459.50 361.07 459.88 360.27 461.02 359.87 462.93 359.87 464.07 360.27 465.98 361.07 467.12 362.28 467.50 363.09 467.50 364.29 467.12 365.10 465.98 365.50 464.07 365.50 462.93 365.10 461.02 364.29 459.88 363.09 459.50 362.28 459.50" stroke="#fff" stroke-width="1.6"/>
<path d="M400.91 459.50 399.71 459.88 398.90 461.02 398.50 462.93 398.50 464.07 398.90 465.98 399.71 467.12 400.91 467.50 401.72 467.50 402.93 467.12 403.73 465.98 404.13 464.07 404.13 462.93 403.73 461.02 402.93 459.88 401.72 459.50 400.91 459.50M408.55 459.50 412.98 459.50 410.56 462.55 411.77 462.55 412.58 462.93 412.98 463.31 413.38 464.45 413.38 465.21 412.98 466.36 412.17 467.12 410.97 467.50 409.76 467.50 408.55 467.12 408.15 466.74 407.75 465.98M417.10 460.83 417.90 460.83M417.10 461.40 417.90 461.40M417.10 467.12 417.90 467.12M417.10 467.50 417.90 467.50M422.42 459.50 426.85 459.50 424.44 462.55 425.64 462.55 426.45 462.93 426.85 463.31 427.25 464.45 427.25 465.21 426.85 466.36 426.05 467.12 424.84 467.50 423.63 467.50 422.42 467.12 422.02 466.74 421.62 465.98M433.28 459.50 432.07 459.88 431.27 461.02 430.87 462.93 430.87 464.07 431.27 465.98 432.07 467.12 433.28 467.50 434.09 467.50 435.29 467.12 436.10 465.98 436.50 464.07 436.50 462.93 436.10 461.02 435.29 459.88 434.09 459.50 433.28 459.50" stroke="#fff" stroke-width="1.6"/>
<path d="M472.91 459.50 471.71 459.88 470.90 461.02 470.50 462.93 470.50 464.07 470.90 465.98 471.71 467.12 472.91 467.50 473.72 467.50 474.93 467.12 475.73 465.98 476.13 464.07 476.13 462.93 475.73 461.02 474.93 459.88 473.72 459.50 472.91 459.50M483.80 459.50 479.78 464.83 485.81 464.83M483.80 459.50 483.80 467.50M489.10 460.83 489.90 460.83M489.10 461.40 489.90 461.40M489.10 467.12 489.90 467.12M489.10 467.50 489.90 467.50M496.03 459.50 494.83 459.88 494.02 461.02 493.62 462.93 493.62 464.07 494.02 465.98 494.83 467.12 496.03 467.50 496.84 467.50 498.05 467.12 498.85 465.98 499.25 464.07 499.25 462.93 498.85 461.02 498.05 459.88 496.84 459.50 496.03 459.50M505.28 459.50 504.07 459.88 503.27 461.02 502.87 462.93 502.87 464.07 503.27 465.98 504.07 467.12 505.28 467.50 506.09 467.50 507.29 467.12 508.10 465.98 508.50 464.07 508.50 462.93 508.10 461.02 507.29 459.88 506.09 459.50 505.28 459.50" stroke="#fff" stroke-width="1.6"/>
<path d="M543.91 459.50 542.71 459.88 541.90 461.02 541.50 462.93 541.50 464.07 541.90 465.98 542.71 467.12 543.91 467.50 544.72 467.50 545.93 467.12 546.73 465.98 547.13 464.07 547.13 462.93 546.73 461.02 545.93 459.88 544.72 459.50 543.91 459.50M554.80 459.50 550.78 464.83 556.81 464.83M554.80 459.50 554.80 467.50M560.10 460.83 560.90 460.83M560.10 461.40 560.90 461.40M560.10 467.12 560.90 467.12M560.10 467.50 560.90 467.50M565.42 459.50 569.85 459.50 567.44 462.55 568.64 462.55 569.45 462.93 569.85 463.31 570.25 464.45 570.25 465.21 569.85 466.36 569.05 467.12 567.84 467.50 566.63 467.50 565.42 467.12 565.02 466.74 564.62 465.98M576.28 459.50 575.07 459.88 574.27 461.02 573.87 462.93 573.87 464.07 574.27 465.98 575.07 467.12 576.28 467.50 577.09 467.50 578.29 467.12 579.10 465.98 579.50 464.07 579.50 462.93 579.10 461.02 578.29 459.88 577.09 459.50 576.28 459.50" stroke="#fff" stroke-width="1.6"/>
<path d="M614.91 459.50 613.71 459.88 612.90 461.02 612.50 462.93 612.50 464.07 612.90 465.98 613.71 467.12 614.91 467.50 615.72 467.50 616.93 467.12 617.73 465.98 618.13 464.07 618.13 462.93 617.73 461.02 616.93 459.88 615.72 459.50 614.91 459.50M626.58 459.50 622.55 459.50 622.15 462.93 622.55 462.55 623.76 462.17 624.97 462.17 626.17 462.55 626.98 463.31 627.38 464.45 627.38 465.21 626.98 466.36 626.17 467.12 624.97 467.50 623.76 467.50 622.55 467.12 622.15 466.74 621.75 465.98M631.10 460.83 631.90 460.83M631.10 461.40 631.90 461.40M631.10 467.12 631.90 467.12M631.10 467.50 631.90 467.50M638.03 459.50 636.83 459.88 636.02 461.02 635.62 462.93 635.62 464.07 636.02 465.98 636.83 467.12 638.03 467.50 638.84 467.50 640.05 467.12 640.85 465.98 641.25 464.07 641.25 462.93 640.85 461.02 640.05 459.88 638.84 459.50 638.03 459.50M647.28 459.50 646.07 459.88 645.27 461.02 644.87 462.93 644.87 464.07 645.27 465.98 646.07 467.12 647.28 467.50 648.09 467.50 649.29 467.12 650.10 465.98 650.50 464.07 650.50 462.93 650.10 461.02 649.29 459.88 648.09 459.50 647.28 459.50" stroke="#fff" stroke-width="1.6"/>
<path d="M686.91 459.50 685.71 459.88 684.90 461.02 684.50 462.93 684.50 464.07 684.90 465.98 685.71 467.12 686.91 467.50 687.72 467.50 688.93 467.12 689.73 465.98 690.13 464.07 690.13 462.93 689.73 461.02 688.93 459.88 687.72 459.50 686.91 459.50M698.58 459.50 694.55 459.50 694.15 462.93 694.55 462.55 695.76 462.17 696.97 462.17 698.17 462.55 698.98 463.31 699.38 464.45 699.38 465.21 698.98 466.36 698.17 467.12 696.97 467.50 695.76 467.50 694.55 467.12 694.15 466.74 693.75 465.98M703.10 460.83 703.90 460.83M703.10 461.40 703.90 461.40M703.10 467.12 703.90 467.12M703.10 467.50 703.90 467.50M708.42 459.50 712.85 459.50 710.44 462.55 711.64 462.55 712.45 462.93 712.85 463.31 713.25 464.45 713.25 465.21 712.85 466.36 712.05 467.12 710.84 467.50 709.63 467.50 708.42 467.12 708.02 466.74 707.62 465.98M719.28 459.50 718.07 459.88 717.27 461.02 716.87 462.93 716.87 464.07 717.27 465.98 718.07 467.12 719.28 467.50 720.09 467.50 721.29 467.12 722.10 465.98 722.50 464.07 722.50 462.93 722.10 461.02 721.29 459.88 720.09 459.50 719.28 459.50" stroke="#fff" stroke-width="1.6"/>
<path d="M757.91 459.50 756.71 459.88 755.90 461.02 755.50 462.93 755.50 464.07 755.90 465.98 756.71 467.12 757.91 467.50 758.72 467.50 759.93 467.12 760.73 465.98 761.13 464.07 761.13 462.93 760.73 461.02 759.93 459.88 758.72 459.50 757.91 459.50M770.01 460.64 769.61 459.88 768.40 459.50 767.59 459.50 766.39 459.88 765.58 461.02 765.18 462.93 765.18 464.83 765.58 466.36 766.39 467.12 767.59 467.50 768.00 467.50 769.20 467.12 770.01 466.36 770.41 465.21 770.41 464.83 770.01 463.69 769.20 462.93 768.00 462.55 767.59 462.55 766.39 462.93 765.58 463.69 765.18 464.83M774.10 460.83 774.90 460.83M774.10 461.40 774.90 461.40M774.10 467.12 774.90 467.12M774.10 467.50 774.90 467.50M781.03 459.50 779.83 459.88 779.02 461.02 778.62 462.93 778.62 464.07 779.02 465.98 779.83 467.12 781.03 467.50 781.84 467.50 783.05 467.12 783.85 465.98 784.25 464.07 784.25 462.93 783.85 461.02 783.05 459.88 781.84 459.50 781.03 459.50M790.28 459.50 789.07 459.88 788.27 461.02 787.87 462.93 787.87 464.07 788.27 465.98 789.07 467.12 790.28 467.50 791.09 467.50 792.29 467.12 793.10 465.98 793.50 464.07 793.50 462.93 793.10 461.02 792.29 459.88 791.09 459.50 790.28 459.50" stroke="#fff" stroke-width="1.6"/>
<path d="M852.50 245.50 852.50 257.50M852.50 245.50 856.16 245.50 857.72 246.07 858.77 247.21 859.29 248.36 859.81 250.07 859.81 252.93 859.29 254.64 858.77 255.79 857.72 256.93 856.16 257.50 852.50 257.50M864.43 252.93 870.69 252.93 870.69 251.79 870.17 250.64 869.65 250.07 868.61 249.50 867.04 249.50 865.99 250.07 864.95 251.21 864.43 252.93 864.43 254.07 864.95 255.79 865.99 256.93 867.04 257.50 868.61 257.50 869.65 256.93 870.69 255.79M881.50 249.50 881.50 258.64 880.98 260.36 880.46 260.93 879.41 261.50 877.84 261.50 876.80 260.93 875.76 259.79M881.50 251.21 880.46 250.07 879.41 249.50 877.84 249.50 876.80 250.07 875.76 251.21 875.23 252.93 875.23 254.07 875.76 255.79 876.80 256.93 877.84 257.50 879.41 257.50 880.46 256.93 881.50 255.79" stroke="#fff" stroke-width="1.6"/>
<path d="M895.50 270.79 896.55 270.21 898.11 268.50 898.11 280.50M906.28 268.50 904.71 269.07 904.19 270.21 904.19 271.36 904.71 272.50 905.75 273.07 907.85 273.64 909.41 274.21 910.46 275.36 910.98 276.50 910.98 278.21 910.46 279.36 909.94 279.93 908.37 280.50 906.28 280.50 904.71 279.93 904.19 279.36 903.66 278.21 903.66 276.50 904.19 275.36 905.23 274.21 906.80 273.64 908.89 273.07 909.94 272.50 910.46 271.36 910.46 270.21 909.94 269.07 908.37 268.50 906.28 268.50M918.82 268.50 917.25 269.07 916.20 270.79 915.68 273.64 915.68 275.36 916.20 278.21 917.25 279.93 918.82 280.50 919.86 280.50 921.43 279.93 922.48 278.21 923.00 275.36 923.00 273.64 922.48 270.79 921.43 269.07 919.86 268.50 918.82 268.50" stroke="#fff" stroke-width="1.6"/>
<path d="M895.50 309.79 896.55 309.21 898.11 307.50 898.11 319.50M904.71 307.50 910.46 307.50 907.32 312.07 908.89 312.07 909.94 312.64 910.46 313.21 910.98 314.93 910.98 316.07 910.46 317.79 909.41 318.93 907.85 319.50 906.28 319.50 904.71 318.93 904.19 318.36 903.66 317.21M921.95 307.50 916.73 307.50 916.20 312.64 916.73 312.07 918.29 311.50 919.86 311.50 921.43 312.07 922.48 313.21 923.00 314.93 923.00 316.07 922.48 317.79 921.43 318.93 919.86 319.50 918.29 319.50 916.73 318.93 916.20 318.36 915.68 317.21" stroke="#fff" stroke-width="1.6"/>
<path d="M902.30 349.50 901.77 351.21 900.73 352.36 899.16 352.93 898.64 352.93 897.07 352.36 896.02 351.21 895.50 349.50 895.50 348.93 896.02 347.21 897.07 346.07 898.64 345.50 899.16 345.50 900.73 346.07 901.77 347.21 902.30 349.50 902.30 352.36 901.77 355.21 900.73 356.93 899.16 357.50 898.11 357.50 896.55 356.93 896.02 355.79M910.69 345.50 909.13 346.07 908.08 347.79 907.56 350.64 907.56 352.36 908.08 355.21 909.13 356.93 910.69 357.50 911.74 357.50 913.31 356.93 914.35 355.21 914.88 352.36 914.88 350.64 914.35 347.79 913.31 346.07 911.74 345.50 910.69 345.50" stroke="#fff" stroke-width="1.6"/>
<path d="M900.73 383.50 895.50 391.50 903.34 391.50M900.73 383.50 900.73 395.50M913.75 383.50 908.52 383.50 908.00 388.64 908.52 388.07 910.09 387.50 911.66 387.50 913.23 388.07 914.27 389.21 914.80 390.93 914.80 392.07 914.27 393.79 913.23 394.93 911.66 395.50 910.09 395.50 908.52 394.93 908.00 394.36 907.48 393.21" stroke="#fff" stroke-width="1.6"/>
<path d="M898.64 422.50 897.07 423.07 896.02 424.79 895.50 427.64 895.50 429.36 896.02 432.21 897.07 433.93 898.64 434.50 899.68 434.50 901.25 433.93 902.30 432.21 902.82 429.36 902.82 427.64 902.30 424.79 901.25 423.07 899.68 422.50 898.64 422.50" stroke="#fff" stroke-width="1.6"/>
<path d="M191.54 496.50 187.63 503.17 193.50 503.17M191.54 496.50 191.54 506.50" stroke="#fff" stroke-width="1.6"/>
<path d="M188.80 531.50 193.11 531.50 190.76 535.31 191.93 535.31 192.72 535.79 193.11 536.26 193.50 537.69 193.50 538.64 193.11 540.07 192.33 541.02 191.15 541.50 189.98 541.50 188.80 541.02 188.41 540.55 188.02 539.60" stroke="#fff" stroke-width="1.6"/>
<path d="M188.41 569.88 188.41 569.40 188.80 568.45 189.19 567.98 189.98 567.50 191.54 567.50 192.33 567.98 192.72 568.45 193.11 569.40 193.11 570.36 192.72 571.31 191.93 572.74 188.02 577.50 193.50 577.50" stroke="#fff" stroke-width="1.6"/>
<path d="M191.54 604.40 192.33 603.93 193.50 602.50 193.50 612.50" stroke="#fff" stroke-width="1.6"/>
<path d="M190.37 638.50 189.19 638.98 188.41 640.40 188.02 642.79 188.02 644.21 188.41 646.60 189.19 648.02 190.37 648.50 191.15 648.50 192.33 648.02 193.11 646.60 193.50 644.21 193.50 642.79 193.11 640.40 192.33 638.98 191.15 638.50 190.37 638.50" stroke="#fff" stroke-width="1.6"/>
<path d="M181.85 679.21 186.55 679.21M191.54 675.40 192.33 674.93 193.50 673.50 193.50 683.50" stroke="#fff" stroke-width="1.6"/>
<path d="M845.50 498.40 846.27 497.93 847.41 496.50 847.41 506.50M851.57 506.02 852.34 506.02M851.57 506.50 852.34 506.50M858.17 496.50 857.03 496.98 856.26 498.40 855.88 500.79 855.88 502.21 856.26 504.60 857.03 506.02 858.17 506.50 858.94 506.50 860.09 506.02 860.85 504.60 861.24 502.21 861.24 500.79 860.85 498.40 860.09 496.98 858.94 496.50 858.17 496.50M864.62 502.69 869.21 502.69 869.21 501.74 868.83 500.79 868.45 500.31 867.68 499.83 866.53 499.83 865.77 500.31 865.00 501.26 864.62 502.69 864.62 503.64 865.00 505.07 865.77 506.02 866.53 506.50 867.68 506.50 868.45 506.02 869.21 505.07M876.60 499.36 876.60 505.07M874.30 502.21 878.89 502.21M886.33 496.50 885.19 496.98 884.42 498.40 884.04 500.79 884.04 502.21 884.42 504.60 885.19 506.02 886.33 506.50 887.10 506.50 888.25 506.02 889.01 504.60 889.40 502.21 889.40 500.79 889.01 498.40 888.25 496.98 887.10 496.50 886.33 496.50M896.69 496.50 892.87 503.17 898.61 503.17M896.69 496.50 896.69 506.50" stroke="#fff" stroke-width="1.6"/>
<path d="M850.09 532.93 849.71 531.98 848.56 531.50 847.80 531.50 846.65 531.98 845.88 533.40 845.50 535.79 845.50 538.17 845.88 540.07 846.65 541.02 847.80 541.50 848.18 541.50 849.33 541.02 850.09 540.07 850.48 538.64 850.48 538.17 850.09 536.74 849.33 535.79 848.18 535.31 847.80 535.31 846.65 535.79 845.88 536.74 845.50 538.17M853.99 541.02 854.75 541.02M853.99 541.50 854.75 541.50M860.59 531.50 859.44 531.98 858.67 533.40 858.29 535.79 858.29 537.21 858.67 539.60 859.44 541.02 860.59 541.50 861.35 541.50 862.50 541.02 863.26 539.60 863.65 537.21 863.65 535.79 863.26 533.40 862.50 531.98 861.35 531.50 860.59 531.50M867.03 537.69 871.62 537.69 871.62 536.74 871.24 535.79 870.86 535.31 870.09 534.83 868.95 534.83 868.18 535.31 867.41 536.26 867.03 537.69 867.03 538.64 867.41 540.07 868.18 541.02 868.95 541.50 870.09 541.50 870.86 541.02 871.62 540.07M879.01 534.36 879.01 540.07M876.71 537.21 881.30 537.21M888.75 531.50 887.60 531.98 886.83 533.40 886.45 535.79 886.45 537.21 886.83 539.60 887.60 541.02 888.75 541.50 889.51 541.50 890.66 541.02 891.42 539.60 891.81 537.21 891.81 535.79 891.42 533.40 890.66 531.98 889.51 531.50 888.75 531.50M896.01 531.50 900.23 531.50 897.93 535.31 899.08 535.31 899.84 535.79 900.23 536.26 900.61 537.69 900.61 538.64 900.23 540.07 899.46 541.02 898.31 541.50 897.16 541.50 896.01 541.02 895.63 540.55 895.25 539.60" stroke="#fff" stroke-width="1.6"/>
<path d="M845.88 569.88 845.88 569.40 846.27 568.45 846.65 567.98 847.41 567.50 848.95 567.50 849.71 567.98 850.09 568.45 850.48 569.40 850.48 570.36 850.09 571.31 849.33 572.74 845.50 577.50 850.86 577.50M854.40 577.02 855.16 577.02M854.40 577.50 855.16 577.50M861.00 567.50 859.85 567.98 859.08 569.40 858.70 571.79 858.70 573.21 859.08 575.60 859.85 577.02 861.00 577.50 861.76 577.50 862.91 577.02 863.68 575.60 864.06 573.21 864.06 571.79 863.68 569.40 862.91 567.98 861.76 567.50 861.00 567.50M867.44 573.69 872.04 573.69 872.04 572.74 871.65 571.79 871.27 571.31 870.51 570.83 869.36 570.83 868.59 571.31 867.83 572.26 867.44 573.69 867.44 574.64 867.83 576.07 868.59 577.02 869.36 577.50 870.51 577.50 871.27 577.02 872.04 576.07M879.42 570.36 879.42 576.07M877.12 573.21 881.72 573.21M889.16 567.50 888.01 567.98 887.24 569.40 886.86 571.79 886.86 573.21 887.24 575.60 888.01 577.02 889.16 577.50 889.92 577.50 891.07 577.02 891.84 575.60 892.22 573.21 892.22 571.79 891.84 569.40 891.07 567.98 889.92 567.50 889.16 567.50M896.43 567.50 900.64 567.50 898.34 571.31 899.49 571.31 900.25 571.79 900.64 572.26 901.02 573.69 901.02 574.64 900.64 576.07 899.87 577.02 898.72 577.50 897.57 577.50 896.43 577.02 896.04 576.55 895.66 575.60" stroke="#fff" stroke-width="1.6"/>
<path d="M847.50 608.21 852.09 608.21M857.62 604.88 857.62 604.40 858.00 603.45 858.39 602.98 859.15 602.50 860.68 602.50 861.45 602.98 861.83 603.45 862.21 604.40 862.21 605.36 861.83 606.31 861.07 607.74 857.24 612.50 862.60 612.50M866.13 612.02 866.90 612.02M866.13 612.50 866.90 612.50M872.73 602.50 871.59 602.98 870.82 604.40 870.44 606.79 870.44 608.21 870.82 610.60 871.59 612.02 872.73 612.50 873.50 612.50 874.65 612.02 875.41 610.60 875.80 608.21 875.80 606.79 875.41 604.40 874.65 602.98 873.50 602.50 872.73 602.50M879.18 608.69 883.77 608.69 883.77 607.74 883.39 606.79 883.01 606.31 882.24 605.83 881.09 605.83 880.33 606.31 879.56 607.26 879.18 608.69 879.18 609.64 879.56 611.07 880.33 612.02 881.09 612.50 882.24 612.50 883.01 612.02 883.77 611.07M891.16 605.36 891.16 611.07M888.86 608.21 893.45 608.21M900.89 602.50 899.75 602.98 898.98 604.40 898.60 606.79 898.60 608.21 898.98 610.60 899.75 612.02 900.89 612.50 901.66 612.50 902.81 612.02 903.57 610.60 903.96 608.21 903.96 606.79 903.57 604.40 902.81 602.98 901.66 602.50 900.89 602.50M908.16 602.50 912.37 602.50 910.08 606.31 911.23 606.31 911.99 606.79 912.37 607.26 912.76 608.69 912.76 609.64 912.37 611.07 911.61 612.02 910.46 612.50 909.31 612.50 908.16 612.02 907.78 611.55 907.40 610.60" stroke="#fff" stroke-width="1.6"/>
<path d="M847.50 644.21 852.09 644.21M862.24 639.93 861.86 638.98 860.71 638.50 859.95 638.50 858.80 638.98 858.03 640.40 857.65 642.79 857.65 645.17 858.03 647.07 858.80 648.02 859.95 648.50 860.33 648.50 861.48 648.02 862.24 647.07 862.62 645.64 862.62 645.17 862.24 643.74 861.48 642.79 860.33 642.31 859.95 642.31 858.80 642.79 858.03 643.74 857.65 645.17M866.13 648.02 866.90 648.02M866.13 648.50 866.90 648.50M872.73 638.50 871.59 638.98 870.82 640.40 870.44 642.79 870.44 644.21 870.82 646.60 871.59 648.02 872.73 648.50 873.50 648.50 874.65 648.02 875.41 646.60 875.80 644.21 875.80 642.79 875.41 640.40 874.65 638.98 873.50 638.50 872.73 638.50M879.18 644.69 883.77 644.69 883.77 643.74 883.39 642.79 883.01 642.31 882.24 641.83 881.09 641.83 880.33 642.31 879.56 643.26 879.18 644.69 879.18 645.64 879.56 647.07 880.33 648.02 881.09 648.50 882.24 648.50 883.01 648.02 883.77 647.07M891.16 641.36 891.16 647.07M888.86 644.21 893.45 644.21M900.89 638.50 899.75 638.98 898.98 640.40 898.60 642.79 898.60 644.21 898.98 646.60 899.75 648.02 900.89 648.50 901.66 648.50 902.81 648.02 903.57 646.60 903.96 644.21 903.96 642.79 903.57 640.40 902.81 638.98 901.66 638.50 900.89 638.50M908.16 638.50 912.37 638.50 910.08 642.31 911.23 642.31 911.99 642.79 912.37 643.26 912.76 644.69 912.76 645.64 912.37 647.07 911.61 648.02 910.46 648.50 909.31 648.50 908.16 648.02 907.78 647.55 907.40 646.60" stroke="#fff" stroke-width="1.6"/>
<path d="M847.50 679.21 852.09 679.21M856.98 675.40 857.75 674.93 858.89 673.50 858.89 683.50M863.05 683.02 863.82 683.02M863.05 683.50 863.82 683.50M869.65 673.50 868.51 673.98 867.74 675.40 867.36 677.79 867.36 679.21 867.74 681.60 868.51 683.02 869.65 683.50 870.42 683.50 871.57 683.02 872.33 681.60 872.72 679.21 872.72 677.79 872.33 675.40 871.57 673.98 870.42 673.50 869.65 673.50M876.10 679.69 880.69 679.69 880.69 678.74 880.31 677.79 879.93 677.31 879.16 676.83 878.01 676.83 877.25 677.31 876.48 678.26 876.10 679.69 876.10 680.64 876.48 682.07 877.25 683.02 878.01 683.50 879.16 683.50 879.93 683.02 880.69 682.07M888.08 676.36 888.08 682.07M885.78 679.21 890.37 679.21M897.81 673.50 896.67 673.98 895.90 675.40 895.52 677.79 895.52 679.21 895.90 681.60 896.67 683.02 897.81 683.50 898.58 683.50 899.73 683.02 900.49 681.60 900.88 679.21 900.88 677.79 900.49 675.40 899.73 673.98 898.58 673.50 897.81 673.50M908.17 673.50 904.35 680.17 910.09 680.17M908.17 673.50 908.17 683.50" stroke="#fff" stroke-width="1.6"/>
<path d="M219.35 482.93 218.37 481.98 216.90 481.50 214.95 481.50 213.48 481.98 212.50 482.93 212.50 483.88 212.99 484.83 213.48 485.31 214.46 485.79 217.39 486.74 218.37 487.21 218.86 487.69 219.35 488.64 219.35 490.07 218.37 491.02 216.90 491.50 214.95 491.50 213.48 491.02 212.50 490.07M226.61 481.50 222.70 491.50M226.61 481.50 230.52 491.50M224.16 488.17 229.06 488.17M234.40 481.50 234.40 491.50M234.40 481.50 240.76 481.50M234.40 486.26 238.31 486.26M246.02 493.40 249.94 493.40M256.93 481.50 256.93 491.50M256.93 481.50 261.33 481.50 262.80 481.98 263.29 482.45 263.78 483.40 263.78 484.36 263.29 485.31 262.80 485.79 261.33 486.26M256.93 486.26 261.33 486.26 262.80 486.74 263.29 487.21 263.78 488.17 263.78 489.60 263.29 490.55 262.80 491.02 261.33 491.50 256.93 491.50M268.18 481.50 275.03 491.50M275.03 481.50 268.18 491.50M279.88 484.83 279.88 489.60 280.37 491.02 281.35 491.50 282.81 491.50 283.79 491.02 285.26 489.60M285.26 484.83 285.26 491.50M292.41 481.50 292.41 491.50M288.99 481.50 295.84 481.50M307.50 479.60 298.69 494.83M312.04 481.50 312.04 491.50M312.04 481.50 315.47 481.50 316.94 481.98 317.92 482.93 318.40 483.88 318.89 485.31 318.89 487.69 318.40 489.12 317.92 490.07 316.94 491.02 315.47 491.50 312.04 491.50M329.09 484.83 329.09 491.50M329.09 486.26 328.11 485.31 327.13 484.83 325.66 484.83 324.69 485.31 323.71 486.26 323.22 487.69 323.22 488.64 323.71 490.07 324.69 491.02 325.66 491.50 327.13 491.50 328.11 491.02 329.09 490.07M334.66 481.50 334.66 489.60 335.15 491.02 336.13 491.50 337.11 491.50M333.20 484.83 336.62 484.83M346.52 484.83 346.52 491.50M346.52 486.26 345.55 485.31 344.57 484.83 343.10 484.83 342.12 485.31 341.14 486.26 340.65 487.69 340.65 488.64 341.14 490.07 342.12 491.02 343.10 491.50 344.57 491.50 345.55 491.02 346.52 490.07M363.42 481.50 362.44 481.98 361.46 482.93 360.97 483.88 360.48 485.31 360.48 487.69 360.97 489.12 361.46 490.07 362.44 491.02 363.42 491.50 365.38 491.50 366.35 491.02 367.33 490.07 367.82 489.12 368.31 487.69 368.31 485.31 367.82 483.88 367.33 482.93 366.35 481.98 365.38 481.50 363.42 481.50M364.89 489.60 367.82 492.45M373.23 484.83 373.23 489.60 373.72 491.02 374.70 491.50 376.17 491.50 377.15 491.02 378.62 489.60M378.62 484.83 378.62 491.50M389.27 484.83 389.27 491.50M389.27 486.26 388.29 485.31 387.31 484.83 385.84 484.83 384.86 485.31 383.88 486.26 383.39 487.69 383.39 488.64 383.88 490.07 384.86 491.02 385.84 491.50 387.31 491.50 388.29 491.02 389.27 490.07M394.20 481.50 394.20 491.50M398.21 481.50 398.70 481.98 399.19 481.50 398.70 481.02 398.21 481.50M398.70 484.83 398.70 491.50M403.84 481.50 403.84 489.60 404.33 491.02 405.31 491.50 406.28 491.50M402.37 484.83 405.79 484.83M409.23 484.83 412.16 491.50M415.10 484.83 412.16 491.50 411.19 493.40 410.21 494.36 409.23 494.83 408.74 494.83M431.63 479.60 430.65 480.55 429.67 481.98 428.69 483.88 428.20 486.26 428.20 488.17 428.69 490.55 429.67 492.45 430.65 493.88 431.63 494.83M436.26 481.50 436.26 491.50M436.26 491.50 442.13 491.50M445.08 479.60 446.05 480.55 447.03 481.98 448.01 483.88 448.50 486.26 448.50 488.17 448.01 490.55 447.03 492.45 446.05 493.88 445.08 494.83" stroke="#fff" stroke-width="1.6"/>
<path d="M531.50 480.50 531.50 491.50M531.50 480.50 535.35 491.50M539.20 480.50 535.35 491.50M539.20 480.50 539.20 491.50M544.67 480.50 544.67 491.50M544.67 480.50 550.93 480.50M544.67 485.74 548.52 485.74M544.67 491.50 550.93 491.50M554.67 480.50 561.41 491.50M561.41 480.50 554.67 491.50M568.70 480.50 567.74 481.02 566.77 482.07 566.29 483.12 565.81 484.69 565.81 487.31 566.29 488.88 566.77 489.93 567.74 490.98 568.70 491.50 570.62 491.50 571.59 490.98 572.55 489.93 573.03 488.88 573.51 487.31 573.51 484.69 573.03 483.12 572.55 482.07 571.59 481.02 570.62 480.50 568.70 480.50M578.47 480.50 578.47 491.50M578.47 480.50 582.80 480.50 584.24 481.02 584.72 481.55 585.21 482.60 585.21 483.64 584.72 484.69 584.24 485.21 582.80 485.74 578.47 485.74M581.84 485.74 585.21 491.50M590.09 480.50 590.09 491.50M590.09 480.50 594.42 480.50 595.86 481.02 596.35 481.55 596.83 482.60 596.83 483.64 596.35 484.69 595.86 485.21 594.42 485.74M590.09 485.74 594.42 485.74 595.86 486.26 596.35 486.79 596.83 487.83 596.83 489.40 596.35 490.45 595.86 490.98 594.42 491.50 590.09 491.50M601.78 480.50 601.78 491.50M601.78 480.50 605.63 491.50M609.48 480.50 605.63 491.50M609.48 480.50 609.48 491.50M621.69 483.12 621.21 482.07 620.25 481.02 619.29 480.50 617.36 480.50 616.40 481.02 615.43 482.07 614.95 483.12 614.47 484.69 614.47 487.31 614.95 488.88 615.43 489.93 616.40 490.98 617.36 491.50 619.29 491.50 620.25 490.98 621.21 489.93 621.69 488.88M634.31 478.40 625.65 495.17M644.97 482.07 644.01 481.02 642.56 480.50 640.64 480.50 639.19 481.02 638.23 482.07 638.23 483.12 638.71 484.17 639.19 484.69 640.16 485.21 643.05 486.26 644.01 486.79 644.49 487.31 644.97 488.36 644.97 489.93 644.01 490.98 642.56 491.50 640.64 491.50 639.19 490.98 638.23 489.93M649.85 480.50 649.85 491.50M649.85 480.50 654.19 480.50 655.63 481.02 656.11 481.55 656.59 482.60 656.59 484.17 656.11 485.21 655.63 485.74 654.19 486.26 649.85 486.26M661.44 480.50 661.44 491.50M661.44 480.50 667.70 480.50M661.44 485.74 665.29 485.74M679.73 480.50 686.48 491.50M686.48 480.50 679.73 491.50M691.89 491.50 691.41 492.02 690.92 491.50 691.41 490.98 691.89 491.50 691.89 492.55 691.41 493.60 690.92 494.12M711.93 482.07 710.97 481.02 709.52 480.50 707.60 480.50 706.15 481.02 705.19 482.07 705.19 483.12 705.67 484.17 706.15 484.69 707.12 485.21 710.01 486.26 710.97 486.79 711.45 487.31 711.93 488.36 711.93 489.93 710.97 490.98 709.52 491.50 707.60 491.50 706.15 490.98 705.19 489.93M716.74 484.17 716.74 495.17M716.74 485.74 717.70 484.69 718.67 484.17 720.11 484.17 721.07 484.69 722.04 485.74 722.52 487.31 722.52 488.36 722.04 489.93 721.07 490.98 720.11 491.50 718.67 491.50 717.70 490.98 716.74 489.93M732.48 484.17 732.48 491.50M732.48 485.74 731.52 484.69 730.55 484.17 729.11 484.17 728.14 484.69 727.18 485.74 726.70 487.31 726.70 488.36 727.18 489.93 728.14 490.98 729.11 491.50 730.55 491.50 731.52 490.98 732.48 489.93M742.99 485.74 742.03 484.69 741.07 484.17 739.62 484.17 738.66 484.69 737.70 485.74 737.21 487.31 737.21 488.36 737.70 489.93 738.66 490.98 739.62 491.50 741.07 491.50 742.03 490.98 742.99 489.93M747.18 487.31 752.95 487.31 752.95 486.26 752.47 485.21 751.99 484.69 751.03 484.17 749.58 484.17 748.62 484.69 747.66 485.74 747.18 487.31 747.18 488.36 747.66 489.93 748.62 490.98 749.58 491.50 751.03 491.50 751.99 490.98 752.95 489.93M762.91 485.74 761.95 484.69 760.99 484.17 759.54 484.17 758.58 484.69 757.62 485.74 757.14 487.31 757.14 488.36 757.62 489.93 758.58 490.98 759.54 491.50 760.99 491.50 761.95 490.98 762.91 489.93M767.51 484.17 767.51 491.50M767.51 487.31 767.99 485.74 768.95 484.69 769.91 484.17 771.36 484.17M780.07 484.17 780.07 491.50M780.07 485.74 779.11 484.69 778.14 484.17 776.70 484.17 775.74 484.69 774.77 485.74 774.29 487.31 774.29 488.36 774.77 489.93 775.74 490.98 776.70 491.50 778.14 491.50 779.11 490.98 780.07 489.93M787.96 480.50 787.00 480.50 786.03 481.02 785.55 482.60 785.55 491.50M784.11 484.17 787.48 484.17M792.19 480.50 792.19 489.40 792.68 490.98 793.64 491.50 794.60 491.50M790.75 484.17 794.12 484.17M810.68 478.40 809.72 479.45 808.76 481.02 807.80 483.12 807.31 485.74 807.31 487.83 807.80 490.45 808.76 492.55 809.72 494.12 810.68 495.17M815.31 480.50 815.31 491.50M815.31 480.50 819.65 480.50 821.09 481.02 821.57 481.55 822.05 482.60 822.05 483.64 821.57 484.69 821.09 485.21 819.65 485.74 815.31 485.74M818.68 485.74 822.05 491.50M826.13 478.40 827.09 479.45 828.06 481.02 829.02 483.12 829.50 485.74 829.50 487.83 829.02 490.45 828.06 492.55 827.09 494.12 826.13 495.17" stroke="#00ff00" stroke-width="1.8"/>
<path d="M58.50 661.50 70.50 661.50M58.50 661.50 58.50 657.21 59.07 655.79 59.64 655.31 60.79 654.83 61.93 654.83 63.07 655.31 63.64 655.79 64.21 657.21 64.21 661.50M64.21 658.17 70.50 654.83M62.50 644.91 70.50 644.91M64.21 644.91 63.07 645.86 62.50 646.81 62.50 648.24 63.07 649.19 64.21 650.15 65.93 650.62 67.07 650.62 68.79 650.15 69.93 649.19 70.50 648.24 70.50 646.81 69.93 645.86 68.79 644.91M62.50 640.08 70.50 638.18M62.50 636.27 70.50 638.18M62.50 636.27 70.50 634.37M62.50 632.46 70.50 634.37M58.50 618.80 70.50 618.80M58.50 618.80 58.50 615.47 59.07 614.04 60.21 613.09 61.36 612.61 63.07 612.14 65.93 612.14 67.64 612.61 68.79 613.09 69.93 614.04 70.50 615.47 70.50 618.80M62.50 602.21 70.50 602.21M64.21 602.21 63.07 603.17 62.50 604.12 62.50 605.55 63.07 606.50 64.21 607.45 65.93 607.93 67.07 607.93 68.79 607.45 69.93 606.50 70.50 605.55 70.50 604.12 69.93 603.17 68.79 602.21M58.50 596.79 68.21 596.79 69.93 596.31 70.50 595.36 70.50 594.41M62.50 598.22 62.50 594.88M62.50 585.24 70.50 585.24M64.21 585.24 63.07 586.20 62.50 587.15 62.50 588.58 63.07 589.53 64.21 590.48 65.93 590.96 67.07 590.96 68.79 590.48 69.93 589.53 70.50 588.58 70.50 587.15 69.93 586.20 68.79 585.24M58.50 568.80 59.07 569.75 60.21 570.71 61.36 571.18 63.07 571.66 65.93 571.66 67.64 571.18 68.79 570.71 69.93 569.75 70.50 568.80 70.50 566.90 69.93 565.94 68.79 564.99 67.64 564.52 65.93 564.04 63.07 564.04 61.36 564.52 60.21 564.99 59.07 565.94 58.50 566.90 58.50 568.80M68.21 567.37 71.64 564.52M62.50 559.25 68.21 559.25 69.93 558.77 70.50 557.82 70.50 556.39 69.93 555.44 68.21 554.01M62.50 554.01 70.50 554.01M62.50 543.64 70.50 543.64M64.21 543.64 63.07 544.60 62.50 545.55 62.50 546.98 63.07 547.93 64.21 548.88 65.93 549.36 67.07 549.36 68.79 548.88 69.93 547.93 70.50 546.98 70.50 545.55 69.93 544.60 68.79 543.64M58.50 538.84 70.50 538.84M58.50 534.94 59.07 534.46 58.50 533.98 57.93 534.46 58.50 534.94M62.50 534.46 70.50 534.46M58.50 529.46 68.21 529.46 69.93 528.99 70.50 528.03 70.50 527.08M62.50 530.89 62.50 527.56M62.50 524.21 70.50 521.36M62.50 518.50 70.50 521.36 72.79 522.31 73.93 523.26 74.50 524.21 74.50 524.69" stroke="#fff" stroke-width="1.6"/>
<path d="M78.79 609.05 79.64 610.03 80.93 611.02 82.64 612.01 84.79 612.50 86.50 612.50 88.64 612.01 90.36 611.02 91.64 610.03 92.50 609.05M80.50 604.30 89.50 604.30M80.50 604.30 80.50 599.86 80.93 598.38 81.36 597.88 82.21 597.39 83.07 597.39 83.93 597.88 84.36 598.38 84.79 599.86 84.79 604.30M84.79 600.85 89.50 597.39M83.50 587.11 89.50 587.11M84.79 587.11 83.93 588.09 83.50 589.08 83.50 590.56 83.93 591.55 84.79 592.53 86.07 593.03 86.93 593.03 88.21 592.53 89.07 591.55 89.50 590.56 89.50 589.08 89.07 588.09 88.21 587.11M83.50 582.10 89.50 580.13M83.50 578.15 89.50 580.13M83.50 578.15 89.50 576.18M83.50 574.21 89.50 576.18M78.79 569.95 79.64 568.97 80.93 567.98 82.64 566.99 84.79 566.50 86.50 566.50 88.64 566.99 90.36 567.98 91.64 568.97 92.50 569.95" stroke="#fff" stroke-width="1.6"/>
<path d="M979.64 510.56 980.79 510.09 981.93 509.15 982.50 508.20 982.50 506.32 981.93 505.38 980.79 504.44 979.64 503.97 977.93 503.50 975.07 503.50 973.36 503.97 972.21 504.44 971.07 505.38 970.50 506.32 970.50 508.20 971.07 509.15 972.21 510.09 973.36 510.56M978.50 517.14 977.93 516.20 976.79 515.26 975.07 514.78 973.93 514.78 972.21 515.26 971.07 516.20 970.50 517.14 970.50 518.55 971.07 519.49 972.21 520.43 973.93 520.90 975.07 520.90 976.79 520.43 977.93 519.49 978.50 518.55 978.50 517.14M978.50 525.92 970.50 525.92M976.21 525.92 977.93 527.33 978.50 528.27 978.50 529.68 977.93 530.62 976.21 531.09 970.50 531.09M976.21 531.09 977.93 532.50 978.50 533.44 978.50 534.85 977.93 535.79 976.21 536.26 970.50 536.26M978.50 541.79 966.50 541.79M976.79 541.79 977.93 542.73 978.50 543.67 978.50 545.08 977.93 546.02 976.79 546.96 975.07 547.43 973.93 547.43 972.21 546.96 971.07 546.02 970.50 545.08 970.50 543.67 971.07 542.73 972.21 541.79M978.50 553.91 977.93 552.97 976.79 552.02 975.07 551.55 973.93 551.55 972.21 552.02 971.07 552.97 970.50 553.91 970.50 555.32 971.07 556.26 972.21 557.20 973.93 557.67 975.07 557.67 976.79 557.20 977.93 556.26 978.50 555.32 978.50 553.91M978.50 562.30 970.50 562.30M976.21 562.30 977.93 563.71 978.50 564.65 978.50 566.06 977.93 567.00 976.21 567.47 970.50 567.47M975.07 572.07 975.07 577.71 976.21 577.71 977.36 577.24 977.93 576.77 978.50 575.83 978.50 574.42 977.93 573.48 976.79 572.54 975.07 572.07 973.93 572.07 972.21 572.54 971.07 573.48 970.50 574.42 970.50 575.83 971.07 576.77 972.21 577.71M978.50 582.30 970.50 582.30M976.21 582.30 977.93 583.72 978.50 584.66 978.50 586.07 977.93 587.01 976.21 587.48 970.50 587.48M982.50 592.80 972.79 592.80 971.07 593.27 970.50 594.21 970.50 595.15M978.50 591.39 978.50 594.68M982.50 607.82 970.50 607.82M982.50 607.82 982.50 611.12 981.93 612.53 980.79 613.47 979.64 613.94 977.93 614.41 975.07 614.41 973.36 613.94 972.21 613.47 971.07 612.53 970.50 611.12 970.50 607.82M982.50 618.22 981.93 618.69 982.50 619.16 983.07 618.69 982.50 618.22M978.50 618.69 970.50 618.69M976.79 628.03 977.93 627.56 978.50 626.15 978.50 624.74 977.93 623.33 976.79 622.86 975.64 623.33 975.07 624.27 974.50 626.62 973.93 627.56 972.79 628.03 972.21 628.03 971.07 627.56 970.50 626.15 970.50 624.74 971.07 623.33 972.21 622.86M982.50 632.82 972.79 632.82 971.07 633.29 970.50 634.23 970.50 635.17M978.50 631.40 978.50 634.70M978.50 644.22 970.50 644.22M976.79 644.22 977.93 643.28 978.50 642.34 978.50 640.93 977.93 639.99 976.79 639.04 975.07 638.57 973.93 638.57 972.21 639.04 971.07 639.99 970.50 640.93 970.50 642.34 971.07 643.28 972.21 644.22M978.50 649.35 970.50 649.35M976.21 649.35 977.93 650.77 978.50 651.71 978.50 653.12 977.93 654.06 976.21 654.53 970.50 654.53M976.79 664.77 977.93 663.83 978.50 662.89 978.50 661.47 977.93 660.53 976.79 659.59 975.07 659.12 973.93 659.12 972.21 659.59 971.07 660.53 970.50 661.47 970.50 662.89 971.07 663.83 972.21 664.77M975.07 668.85 975.07 674.50 976.21 674.50 977.36 674.03 977.93 673.56 978.50 672.62 978.50 671.21 977.93 670.27 976.79 669.33 975.07 668.85 973.93 668.85 972.21 669.33 971.07 670.27 970.50 671.21 970.50 672.62 971.07 673.56 972.21 674.50" stroke="#fff" stroke-width="1.6"/>
<path d="M966.79 573.19 965.64 572.13 963.93 571.08 961.64 570.03 958.79 569.50 956.50 569.50 953.64 570.03 951.36 571.08 949.64 572.13 948.50 573.19M964.50 578.13 952.50 578.13M960.50 583.40 954.79 578.13M957.07 580.24 952.50 583.92M960.50 588.85 952.50 588.85M958.21 588.85 959.93 590.43 960.50 591.49 960.50 593.06 959.93 594.12 958.21 594.64 952.50 594.64M958.21 594.64 959.93 596.22 960.50 597.28 960.50 598.86 959.93 599.91 958.21 600.44 952.50 600.44M966.79 605.81 965.64 606.87 963.93 607.92 961.64 608.97 958.79 609.50 956.50 609.50 953.64 608.97 951.36 607.92 949.64 606.87 948.50 605.81" stroke="#fff" stroke-width="1.6"/>
<path d="M122.67 690.40 122.25 689.64 121.43 688.88 120.61 688.50 118.97 688.50 118.14 688.88 117.32 689.64 116.91 690.40 116.50 691.55 116.50 693.45 116.91 694.60 117.32 695.36 118.14 696.12 118.97 696.50 120.61 696.50 121.43 696.12 122.25 695.36 122.67 694.60 122.67 693.45M120.61 693.45 122.67 693.45M126.93 688.50 126.93 696.50M126.93 688.50 130.21 696.50M133.50 688.50 130.21 696.50M133.50 688.50 133.50 696.50M139.66 688.50 139.66 696.50M136.79 688.50 142.54 688.50M148.43 686.98 147.60 687.74 146.78 688.88 145.96 690.40 145.55 692.31 145.55 693.83 145.96 695.74 146.78 697.26 147.60 698.40 148.43 699.17M152.62 691.17 152.62 696.50M152.62 692.69 153.86 691.55 154.68 691.17 155.91 691.17 156.73 691.55 157.15 692.69 157.15 696.50M157.15 692.69 158.38 691.55 159.20 691.17 160.43 691.17 161.26 691.55 161.67 692.69 161.67 696.50M165.71 688.50 166.12 688.88 166.53 688.50 166.12 688.12 165.71 688.50M166.12 691.17 166.12 696.50M170.24 691.17 170.24 696.50M170.24 692.69 171.47 691.55 172.30 691.17 173.53 691.17 174.35 691.55 174.76 692.69 174.76 696.50M178.62 686.98 179.44 687.74 180.27 688.88 181.09 690.40 181.50 692.31 181.50 693.83 181.09 695.74 180.27 697.26 179.44 698.40 178.62 699.17" stroke="#fff" stroke-width="1.6"/>
<path d="M258.91 688.50 257.71 688.88 256.90 690.02 256.50 691.93 256.50 693.07 256.90 694.98 257.71 696.12 258.91 696.50 259.72 696.50 260.93 696.12 261.73 694.98 262.13 693.07 262.13 691.93 261.73 690.02 260.93 688.88 259.72 688.50 258.91 688.50M266.15 690.40 266.15 690.02 266.55 689.26 266.95 688.88 267.76 688.50 269.37 688.50 270.17 688.88 270.58 689.26 270.98 690.02 270.98 690.79 270.58 691.55 269.77 692.69 265.75 696.50 271.38 696.50M275.10 689.83 275.90 689.83M275.10 690.40 275.90 690.40M275.10 696.12 275.90 696.12M275.10 696.50 275.90 696.50M280.42 688.50 284.85 688.50 282.44 691.55 283.64 691.55 284.45 691.93 284.85 692.31 285.25 693.45 285.25 694.21 284.85 695.36 284.05 696.12 282.84 696.50 281.63 696.50 280.42 696.12 280.02 695.74 279.62 694.98M291.28 688.50 290.07 688.88 289.27 690.02 288.87 691.93 288.87 693.07 289.27 694.98 290.07 696.12 291.28 696.50 292.09 696.50 293.29 696.12 294.10 694.98 294.50 693.07 294.50 691.93 294.10 690.02 293.29 688.88 292.09 688.50 291.28 688.50" stroke="#fff" stroke-width="1.6"/>
<path d="M329.91 688.50 328.71 688.88 327.90 690.02 327.50 691.93 327.50 693.07 327.90 694.98 328.71 696.12 329.91 696.50 330.72 696.50 331.93 696.12 332.73 694.98 333.13 693.07 333.13 691.93 332.73 690.02 331.93 688.88 330.72 688.50 329.91 688.50M337.55 688.50 341.98 688.50 339.56 691.55 340.77 691.55 341.58 691.93 341.98 692.31 342.38 693.45 342.38 694.21 341.98 695.36 341.17 696.12 339.97 696.50 338.76 696.50 337.55 696.12 337.15 695.74 336.75 694.98M346.10 689.83 346.90 689.83M346.10 690.40 346.90 690.40M346.10 696.12 346.90 696.12M346.10 696.50 346.90 696.50M353.03 688.50 351.83 688.88 351.02 690.02 350.62 691.93 350.62 693.07 351.02 694.98 351.83 696.12 353.03 696.50 353.84 696.50 355.05 696.12 355.85 694.98 356.25 693.07 356.25 691.93 355.85 690.02 355.05 688.88 353.84 688.50 353.03 688.50M362.28 688.50 361.07 688.88 360.27 690.02 359.87 691.93 359.87 693.07 360.27 694.98 361.07 696.12 362.28 696.50 363.09 696.50 364.29 696.12 365.10 694.98 365.50 693.07 365.50 691.93 365.10 690.02 364.29 688.88 363.09 688.50 362.28 688.50" stroke="#fff" stroke-width="1.6"/>
<path d="M400.91 688.50 399.71 688.88 398.90 690.02 398.50 691.93 398.50 693.07 398.90 694.98 399.71 696.12 400.91 696.50 401.72 696.50 402.93 696.12 403.73 694.98 404.13 693.07 404.13 691.93 403.73 690.02 402.93 688.88 401.72 688.50 400.91 688.50M408.55 688.50 412.98 688.50 410.56 691.55 411.77 691.55 412.58 691.93 412.98 692.31 413.38 693.45 413.38 694.21 412.98 695.36 412.17 696.12 410.97 696.50 409.76 696.50 408.55 696.12 408.15 695.74 407.75 694.98M417.10 689.83 417.90 689.83M417.10 690.40 417.90 690.40M417.10 696.12 417.90 696.12M417.10 696.50 417.90 696.50M422.42 688.50 426.85 688.50 424.44 691.55 425.64 691.55 426.45 691.93 426.85 692.31 427.25 693.45 427.25 694.21 426.85 695.36 426.05 696.12 424.84 696.50 423.63 696.50 422.42 696.12 422.02 695.74 421.62 694.98M433.28 688.50 432.07 688.88 431.27 690.02 430.87 691.93 430.87 693.07 431.27 694.98 432.07 696.12 433.28 696.50 434.09 696.50 435.29 696.12 436.10 694.98 436.50 693.07 436.50 691.93 436.10 690.02 435.29 688.88 434.09 688.50 433.28 688.50" stroke="#fff" stroke-width="1.6"/>
<path d="M472.91 688.50 471.71 688.88 470.90 690.02 470.50 691.93 470.50 693.07 470.90 694.98 471.71 696.12 472.91 696.50 473.72 696.50 474.93 696.12 475.73 694.98 476.13 693.07 476.13 691.93 475.73 690.02 474.93 688.88 473.72 688.50 472.91 688.50M483.80 688.50 479.78 693.83 485.81 693.83M483.80 688.50 483.80 696.50M489.10 689.83 489.90 689.83M489.10 690.40 489.90 690.40M489.10 696.12 489.90 696.12M489.10 696.50 489.90 696.50M496.03 688.50 494.83 688.88 494.02 690.02 493.62 691.93 493.62 693.07 494.02 694.98 494.83 696.12 496.03 696.50 496.84 696.50 498.05 696.12 498.85 694.98 499.25 693.07 499.25 691.93 498.85 690.02 498.05 688.88 496.84 688.50 496.03 688.50M505.28 688.50 504.07 688.88 503.27 690.02 502.87 691.93 502.87 693.07 503.27 694.98 504.07 696.12 505.28 696.50 506.09 696.50 507.29 696.12 508.10 694.98 508.50 693.07 508.50 691.93 508.10 690.02 507.29 688.88 506.09 688.50 505.28 688.50" stroke="#fff" stroke-width="1.6"/>
<path d="M543.91 688.50 542.71 688.88 541.90 690.02 541.50 691.93 541.50 693.07 541.90 694.98 542.71 696.12 543.91 696.50 544.72 696.50 545.93 696.12 546.73 694.98 547.13 693.07 547.13 691.93 546.73 690.02 545.93 688.88 544.72 688.50 543.91 688.50M554.80 688.50 550.78 693.83 556.81 693.83M554.80 688.50 554.80 696.50M560.10 689.83 560.90 689.83M560.10 690.40 560.90 690.40M560.10 696.12 560.90 696.12M560.10 696.50 560.90 696.50M565.42 688.50 569.85 688.50 567.44 691.55 568.64 691.55 569.45 691.93 569.85 692.31 570.25 693.45 570.25 694.21 569.85 695.36 569.05 696.12 567.84 696.50 566.63 696.50 565.42 696.12 565.02 695.74 564.62 694.98M576.28 688.50 575.07 688.88 574.27 690.02 573.87 691.93 573.87 693.07 574.27 694.98 575.07 696.12 576.28 696.50 577.09 696.50 578.29 696.12 579.10 694.98 579.50 693.07 579.50 691.93 579.10 690.02 578.29 688.88 577.09 688.50 576.28 688.50" stroke="#fff" stroke-width="1.6"/>
<path d="M614.91 688.50 613.71 688.88 612.90 690.02 612.50 691.93 612.50 693.07 612.90 694.98 613.71 696.12 614.91 696.50 615.72 696.50 616.93 696.12 617.73 694.98 618.13 693.07 618.13 691.93 617.73 690.02 616.93 688.88 615.72 688.50 614.91 688.50M626.58 688.50 622.55 688.50 622.15 691.93 622.55 691.55 623.76 691.17 624.97 691.17 626.17 691.55 626.98 692.31 627.38 693.45 627.38 694.21 626.98 695.36 626.17 696.12 624.97 696.50 623.76 696.50 622.55 696.12 622.15 695.74 621.75 694.98M631.10 689.83 631.90 689.83M631.10 690.40 631.90 690.40M631.10 696.12 631.90 696.12M631.10 696.50 631.90 696.50M638.03 688.50 636.83 688.88 636.02 690.02 635.62 691.93 635.62 693.07 636.02 694.98 636.83 696.12 638.03 696.50 638.84 696.50 640.05 696.12 640.85 694.98 641.25 693.07 641.25 691.93 640.85 690.02 640.05 688.88 638.84 688.50 638.03 688.50M647.28 688.50 646.07 688.88 645.27 690.02 644.87 691.93 644.87 693.07 645.27 694.98 646.07 696.12 647.28 696.50 648.09 696.50 649.29 696.12 650.10 694.98 650.50 693.07 650.50 691.93 650.10 690.02 649.29 688.88 648.09 688.50 647.28 688.50" stroke="#fff" stroke-width="1.6"/>
<path d="M686.91 688.50 685.71 688.88 684.90 690.02 684.50 691.93 684.50 693.07 684.90 694.98 685.71 696.12 686.91 696.50 687.72 696.50 688.93 696.12 689.73 694.98 690.13 693.07 690.13 691.93 689.73 690.02 688.93 688.88 687.72 688.50 686.91 688.50M698.58 688.50 694.55 688.50 694.15 691.93 694.55 691.55 695.76 691.17 696.97 691.17 698.17 691.55 698.98 692.31 699.38 693.45 699.38 694.21 698.98 695.36 698.17 696.12 696.97 696.50 695.76 696.50 694.55 696.12 694.15 695.74 693.75 694.98M703.10 689.83 703.90 689.83M703.10 690.40 703.90 690.40M703.10 696.12 703.90 696.12M703.10 696.50 703.90 696.50M708.42 688.50 712.85 688.50 710.44 691.55 711.64 691.55 712.45 691.93 712.85 692.31 713.25 693.45 713.25 694.21 712.85 695.36 712.05 696.12 710.84 696.50 709.63 696.50 708.42 696.12 708.02 695.74 707.62 694.98M719.28 688.50 718.07 688.88 717.27 690.02 716.87 691.93 716.87 693.07 717.27 694.98 718.07 696.12 719.28 696.50 720.09 696.50 721.29 696.12 722.10 694.98 722.50 693.07 722.50 691.93 722.10 690.02 721.29 688.88 720.09 688.50 719.28 688.50" stroke="#fff" stroke-width="1.6"/>
<path d="M757.91 688.50 756.71 688.88 755.90 690.02 755.50 691.93 755.50 693.07 755.90 694.98 756.71 696.12 757.91 696.50 758.72 696.50 759.93 696.12 760.73 694.98 761.13 693.07 761.13 691.93 760.73 690.02 759.93 688.88 758.72 688.50 757.91 688.50M770.01 689.64 769.61 688.88 768.40 688.50 767.59 688.50 766.39 688.88 765.58 690.02 765.18 691.93 765.18 693.83 765.58 695.36 766.39 696.12 767.59 696.50 768.00 696.50 769.20 696.12 770.01 695.36 770.41 694.21 770.41 693.83 770.01 692.69 769.20 691.93 768.00 691.55 767.59 691.55 766.39 691.93 765.58 692.69 765.18 693.83M774.10 689.83 774.90 689.83M774.10 690.40 774.90 690.40M774.10 696.12 774.90 696.12M774.10 696.50 774.90 696.50M781.03 688.50 779.83 688.88 779.02 690.02 778.62 691.93 778.62 693.07 779.02 694.98 779.83 696.12 781.03 696.50 781.84 696.50 783.05 696.12 783.85 694.98 784.25 693.07 784.25 691.93 783.85 690.02 783.05 688.88 781.84 688.50 781.03 688.50M790.28 688.50 789.07 688.88 788.27 690.02 787.87 691.93 787.87 693.07 788.27 694.98 789.07 696.12 790.28 696.50 791.09 696.50 792.29 696.12 793.10 694.98 793.50 693.07 793.50 691.93 793.10 690.02 792.29 688.88 791.09 688.50 790.28 688.50" stroke="#fff" stroke-width="1.6"/>
</g>
</svg>
</body></html>
